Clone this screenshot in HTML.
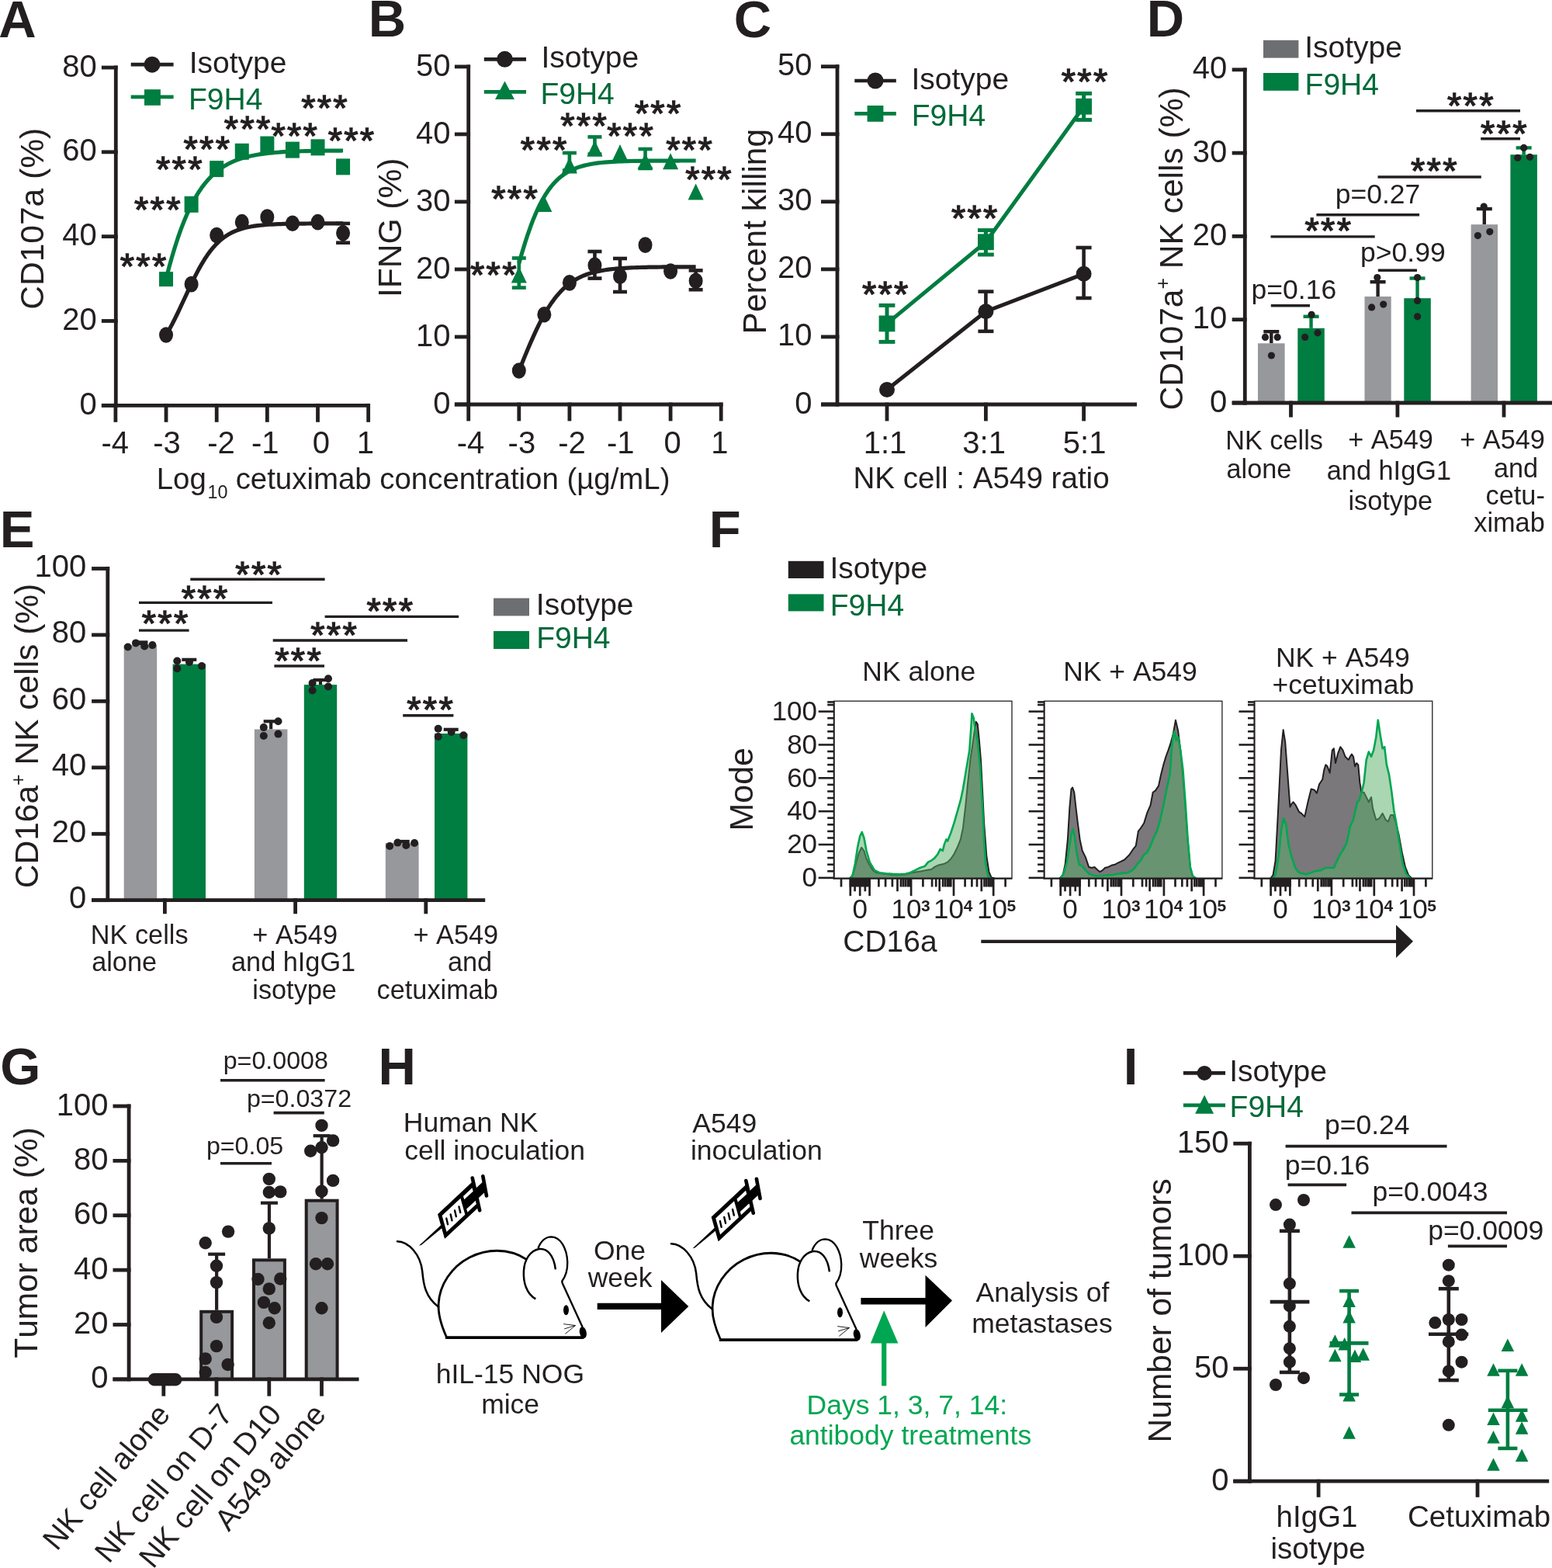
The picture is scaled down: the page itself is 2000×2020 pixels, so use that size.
<!DOCTYPE html>
<html><head><meta charset="utf-8"><title>Figure</title>
<style>
html,body{margin:0;padding:0;background:#fff;overflow:hidden;}
svg{display:block;}
text{font-family:'Liberation Sans', Arial, Helvetica, sans-serif;font-kerning:none;white-space:pre;}
</style></head><body>
<svg width="2000" height="2020" viewBox="0 0 2000 2020">
<rect x="0" y="0" width="2000" height="2020" fill="#fff"/>
<text x="-1.67" y="47.7" fill="#231F20" style="font-size:67px;font-weight:bold">A</text>
<line x1="149.3" y1="84.62" x2="149.3" y2="524.7" stroke="#231F20" stroke-width="4.8" stroke-linecap="butt"/>
<line x1="130.9" y1="522.3" x2="151.7" y2="522.3" stroke="#231F20" stroke-width="4.8" stroke-linecap="butt"/>
<line x1="130.9" y1="413.48" x2="151.7" y2="413.48" stroke="#231F20" stroke-width="4.8" stroke-linecap="butt"/>
<line x1="130.9" y1="304.66" x2="151.7" y2="304.66" stroke="#231F20" stroke-width="4.8" stroke-linecap="butt"/>
<line x1="130.9" y1="195.84" x2="151.7" y2="195.84" stroke="#231F20" stroke-width="4.8" stroke-linecap="butt"/>
<line x1="130.9" y1="87.02" x2="151.7" y2="87.02" stroke="#231F20" stroke-width="4.8" stroke-linecap="butt"/>
<line x1="130.9" y1="522.3" x2="477.05" y2="522.3" stroke="#231F20" stroke-width="4.8" stroke-linecap="butt"/>
<line x1="148.9" y1="519.9" x2="148.9" y2="543.8" stroke="#231F20" stroke-width="4.8" stroke-linecap="butt"/>
<line x1="214.05" y1="519.9" x2="214.05" y2="543.8" stroke="#231F20" stroke-width="4.8" stroke-linecap="butt"/>
<line x1="279.2" y1="519.9" x2="279.2" y2="543.8" stroke="#231F20" stroke-width="4.8" stroke-linecap="butt"/>
<line x1="344.35" y1="519.9" x2="344.35" y2="543.8" stroke="#231F20" stroke-width="4.8" stroke-linecap="butt"/>
<line x1="409.5" y1="519.9" x2="409.5" y2="543.8" stroke="#231F20" stroke-width="4.8" stroke-linecap="butt"/>
<line x1="474.65" y1="519.9" x2="474.65" y2="543.8" stroke="#231F20" stroke-width="4.8" stroke-linecap="butt"/>
<text x="102.62" y="533.8" fill="#231F20" style="font-size:40px">0</text>
<text x="80.37" y="424.98" fill="#231F20" style="font-size:40px">20</text>
<text x="80.37" y="316.16" fill="#231F20" style="font-size:40px">40</text>
<text x="80.37" y="207.34" fill="#231F20" style="font-size:40px">60</text>
<text x="80.37" y="98.52" fill="#231F20" style="font-size:40px">80</text>
<text x="130.51" y="584" fill="#231F20" style="font-size:40px">-4</text>
<text x="197.31" y="584" fill="#231F20" style="font-size:40px">-3</text>
<text x="267.23" y="584" fill="#231F20" style="font-size:40px">-2</text>
<text x="324" y="584" fill="#231F20" style="font-size:40px">-1</text>
<text x="402.68" y="584" fill="#231F20" style="font-size:40px">0</text>
<text x="459.83" y="584" fill="#231F20" style="font-size:40px">1</text>
<text x="201.75" y="630.2" fill="#231F20" style="font-size:38.4px">Log</text>
<text x="267.42" y="642.2" fill="#231F20" style="font-size:23.4px">10</text>
<text x="303.67" y="630.2" fill="#231F20" style="font-size:38.4px">cetuximab concentration (µg/mL)</text>
<text x="55.8" y="398.68" fill="#231F20" style="font-size:42.5px" transform="rotate(-90 55.8 398.68)">CD107a (%)</text>
<polyline points="214.05,431.55 217.85,425.02 221.65,418 225.45,410.55 229.25,402.76 233.05,394.71 236.85,386.52 240.65,378.3 244.45,370.16 248.25,362.23 252.05,354.6 255.85,347.37 259.66,340.59 263.46,334.31 267.26,328.57 271.06,323.36 274.86,318.69 278.66,314.52 282.46,310.84 286.26,307.61 290.06,304.78 293.86,302.33 297.66,300.2 301.46,298.37 305.26,296.8 309.06,295.45 312.86,294.3 316.66,293.32 320.46,292.48 324.26,291.77 328.06,291.16 331.86,290.65 335.66,290.21 339.46,289.85 343.26,289.53 347.06,289.27 350.87,289.05 354.67,288.86 358.47,288.7 362.27,288.57 366.07,288.45 369.87,288.36 373.67,288.28 377.47,288.21 381.27,288.15 385.07,288.1 388.87,288.06 392.67,288.03 396.47,288 400.27,287.97 404.07,287.95 407.87,287.93 411.67,287.92 415.47,287.91 419.27,287.9 423.07,287.89 426.87,287.88 430.67,287.87 434.47,287.87 438.27,287.86 442.08,287.86" fill="none" stroke="#231F20" stroke-width="5.2" stroke-linejoin="round" stroke-linecap="butt"/>
<polyline points="214.05,359.07 217.85,344.47 221.65,330.85 225.45,318.19 229.25,306.48 233.05,295.68 236.85,285.76 240.65,276.68 244.45,268.4 248.25,260.85 252.05,254 255.85,247.79 259.66,242.18 263.46,237.11 267.26,232.54 271.06,228.43 274.86,224.74 278.66,221.42 282.46,218.45 286.26,215.79 290.06,213.41 293.86,211.28 297.66,209.38 301.46,207.68 305.26,206.16 309.06,204.8 312.86,203.6 316.66,202.52 320.46,201.56 324.26,200.71 328.06,199.95 331.86,199.27 335.66,198.67 339.46,198.13 343.26,197.65 347.06,197.23 350.87,196.85 354.67,196.52 358.47,196.22 362.27,195.95 366.07,195.72 369.87,195.51 373.67,195.32 377.47,195.15 381.27,195.01 385.07,194.87 388.87,194.76 392.67,194.65 396.47,194.56 400.27,194.48 404.07,194.41 407.87,194.34 411.67,194.29 415.47,194.23 419.27,194.19 423.07,194.15 426.87,194.11 430.67,194.08 434.47,194.05 438.27,194.03 442.08,194.01" fill="none" stroke="#007D40" stroke-width="5.2" stroke-linejoin="round" stroke-linecap="butt"/>
<ellipse cx="214.05" cy="431.44" rx="9" ry="10.3" fill="#231F20"/>
<ellipse cx="246.62" cy="366.14" rx="9" ry="10.3" fill="#231F20"/>
<ellipse cx="279.2" cy="303.03" rx="9" ry="10.3" fill="#231F20"/>
<ellipse cx="311.77" cy="286.16" rx="9" ry="10.3" fill="#231F20"/>
<ellipse cx="344.35" cy="279.63" rx="9" ry="10.3" fill="#231F20"/>
<ellipse cx="376.93" cy="287.79" rx="9" ry="10.3" fill="#231F20"/>
<ellipse cx="409.5" cy="286.16" rx="9" ry="10.3" fill="#231F20"/>
<ellipse cx="442.08" cy="300.31" rx="9" ry="10.3" fill="#231F20"/>
<line x1="442.08" y1="287.91" x2="442.08" y2="312.71" stroke="#231F20" stroke-width="4.6" stroke-linecap="butt"/>
<line x1="433.08" y1="287.91" x2="451.08" y2="287.91" stroke="#231F20" stroke-width="4.6" stroke-linecap="butt"/>
<line x1="433.08" y1="312.71" x2="451.08" y2="312.71" stroke="#231F20" stroke-width="4.6" stroke-linecap="butt"/>
<rect x="205.05" y="350.11" width="18" height="19" fill="#007D40"/>
<rect x="237.62" y="252.81" width="18" height="21" fill="#007D40"/>
<rect x="270.2" y="207.1" width="18" height="21" fill="#007D40"/>
<rect x="302.77" y="184.8" width="18" height="21" fill="#007D40"/>
<rect x="335.35" y="175.55" width="18" height="21" fill="#007D40"/>
<rect x="367.93" y="182.62" width="18" height="21" fill="#007D40"/>
<rect x="400.5" y="179.35" width="18" height="21" fill="#007D40"/>
<rect x="433.08" y="204.38" width="18" height="21" fill="#007D40"/>
<line x1="168.7" y1="83.2" x2="223.6" y2="83.2" stroke="#231F20" stroke-width="4.7" stroke-linecap="butt"/>
<circle cx="196" cy="83.2" r="10.5" fill="#231F20"/>
<text x="243.7" y="93.9" fill="#231F20" style="font-size:39px">Isotype</text>
<line x1="168.7" y1="124.8" x2="223.6" y2="124.8" stroke="#007D40" stroke-width="4.7" stroke-linecap="butt"/>
<rect x="186" y="115.2" width="20.9" height="20.6" fill="#007D40"/>
<text x="243" y="141" fill="#006A38" style="font-size:39px">F9H4</text>
<text x="154.74" y="359.34" fill="#231F20" style="font-size:47px;letter-spacing:2.3px;stroke:#231F20;stroke-width:1.3px">***</text>
<text x="173.04" y="286.34" fill="#231F20" style="font-size:47px;letter-spacing:2.3px;stroke:#231F20;stroke-width:1.3px">***</text>
<text x="201.04" y="234.44" fill="#231F20" style="font-size:47px;letter-spacing:2.3px;stroke:#231F20;stroke-width:1.3px">***</text>
<text x="236.54" y="207.84" fill="#231F20" style="font-size:47px;letter-spacing:2.3px;stroke:#231F20;stroke-width:1.3px">***</text>
<text x="288.84" y="181.64" fill="#231F20" style="font-size:47px;letter-spacing:2.3px;stroke:#231F20;stroke-width:1.3px">***</text>
<text x="349.44" y="191.04" fill="#231F20" style="font-size:47px;letter-spacing:2.3px;stroke:#231F20;stroke-width:1.3px">***</text>
<text x="388.14" y="154.84" fill="#231F20" style="font-size:47px;letter-spacing:2.3px;stroke:#231F20;stroke-width:1.3px">***</text>
<text x="422.64" y="197.34" fill="#231F20" style="font-size:47px;letter-spacing:2.3px;stroke:#231F20;stroke-width:1.3px">***</text>
<text x="474.82" y="47" fill="#231F20" style="font-size:67px;font-weight:bold">B</text>
<line x1="603.7" y1="83.5" x2="603.7" y2="523.4" stroke="#231F20" stroke-width="4.8" stroke-linecap="butt"/>
<line x1="585.9" y1="521" x2="606.1" y2="521" stroke="#231F20" stroke-width="4.8" stroke-linecap="butt"/>
<line x1="585.9" y1="433.98" x2="606.1" y2="433.98" stroke="#231F20" stroke-width="4.8" stroke-linecap="butt"/>
<line x1="585.9" y1="346.96" x2="606.1" y2="346.96" stroke="#231F20" stroke-width="4.8" stroke-linecap="butt"/>
<line x1="585.9" y1="259.94" x2="606.1" y2="259.94" stroke="#231F20" stroke-width="4.8" stroke-linecap="butt"/>
<line x1="585.9" y1="172.92" x2="606.1" y2="172.92" stroke="#231F20" stroke-width="4.8" stroke-linecap="butt"/>
<line x1="585.9" y1="85.9" x2="606.1" y2="85.9" stroke="#231F20" stroke-width="4.8" stroke-linecap="butt"/>
<line x1="585.9" y1="521" x2="931.6" y2="521" stroke="#231F20" stroke-width="4.8" stroke-linecap="butt"/>
<line x1="603.7" y1="518.6" x2="603.7" y2="542.4" stroke="#231F20" stroke-width="4.8" stroke-linecap="butt"/>
<line x1="668.8" y1="518.6" x2="668.8" y2="542.4" stroke="#231F20" stroke-width="4.8" stroke-linecap="butt"/>
<line x1="733.9" y1="518.6" x2="733.9" y2="542.4" stroke="#231F20" stroke-width="4.8" stroke-linecap="butt"/>
<line x1="799" y1="518.6" x2="799" y2="542.4" stroke="#231F20" stroke-width="4.8" stroke-linecap="butt"/>
<line x1="864.1" y1="518.6" x2="864.1" y2="542.4" stroke="#231F20" stroke-width="4.8" stroke-linecap="butt"/>
<line x1="929.2" y1="518.6" x2="929.2" y2="542.4" stroke="#231F20" stroke-width="4.8" stroke-linecap="butt"/>
<text x="558.32" y="533.4" fill="#231F20" style="font-size:40px">0</text>
<text x="536.07" y="446.38" fill="#231F20" style="font-size:40px">10</text>
<text x="536.07" y="359.36" fill="#231F20" style="font-size:40px">20</text>
<text x="536.07" y="272.34" fill="#231F20" style="font-size:40px">30</text>
<text x="536.07" y="185.32" fill="#231F20" style="font-size:40px">40</text>
<text x="536.07" y="98.3" fill="#231F20" style="font-size:40px">50</text>
<text x="588.71" y="584" fill="#231F20" style="font-size:40px">-4</text>
<text x="654.61" y="584" fill="#231F20" style="font-size:40px">-3</text>
<text x="719.23" y="584" fill="#231F20" style="font-size:40px">-2</text>
<text x="781.9" y="584" fill="#231F20" style="font-size:40px">-1</text>
<text x="855.48" y="584" fill="#231F20" style="font-size:40px">0</text>
<text x="916.33" y="584" fill="#231F20" style="font-size:40px">1</text>
<text x="517.4" y="383.05" fill="#231F20" style="font-size:42.5px" transform="rotate(-90 517.4 383.05)">IFNG (%)</text>
<polyline points="668.8,477.5 672.6,468.16 676.39,458.89 680.19,449.77 683.99,440.89 687.79,432.33 691.59,424.15 695.38,416.41 699.18,409.15 702.98,402.38 706.78,396.13 710.57,390.39 714.37,385.16 718.17,380.41 721.97,376.12 725.76,372.27 729.56,368.83 733.36,365.77 737.15,363.04 740.95,360.63 744.75,358.5 748.55,356.63 752.35,354.98 756.14,353.53 759.94,352.27 763.74,351.16 767.54,350.19 771.33,349.34 775.13,348.61 778.93,347.96 782.73,347.4 786.52,346.92 790.32,346.49 794.12,346.12 797.91,345.8 801.71,345.53 805.51,345.29 809.31,345.08 813.11,344.89 816.9,344.74 820.7,344.6 824.5,344.48 828.3,344.38 832.09,344.29 835.89,344.21 839.69,344.14 843.49,344.08 847.28,344.03 851.08,343.99 854.88,343.95 858.67,343.92 862.47,343.89 866.27,343.86 870.07,343.84 873.87,343.82 877.66,343.81 881.46,343.79 885.26,343.78 889.06,343.77 892.85,343.76 896.65,343.76" fill="none" stroke="#231F20" stroke-width="5.2" stroke-linejoin="round" stroke-linecap="butt"/>
<polyline points="668.8,339.23 672.6,325.92 676.39,313.41 680.19,301.76 683.99,291.01 687.79,281.18 691.59,272.26 695.38,264.22 699.18,257.02 702.98,250.61 706.78,244.93 710.57,239.92 714.37,235.51 718.17,231.66 721.97,228.3 725.76,225.37 729.56,222.83 733.36,220.62 737.15,218.72 740.95,217.07 744.75,215.65 748.55,214.42 752.35,213.37 756.14,212.46 759.94,211.68 763.74,211.01 767.54,210.44 771.33,209.94 775.13,209.52 778.93,209.15 782.73,208.84 786.52,208.58 790.32,208.35 794.12,208.15 797.91,207.98 801.71,207.84 805.51,207.72 809.31,207.61 813.11,207.52 816.9,207.44 820.7,207.38 824.5,207.32 828.3,207.27 832.09,207.23 835.89,207.19 839.69,207.16 843.49,207.14 847.28,207.11 851.08,207.1 854.88,207.08 858.67,207.07 862.47,207.05 866.27,207.04 870.07,207.03 873.87,207.03 877.66,207.02 881.46,207.01 885.26,207.01 889.06,207.01 892.85,207 896.65,207" fill="none" stroke="#007D40" stroke-width="5.2" stroke-linejoin="round" stroke-linecap="butt"/>
<line x1="766.45" y1="324" x2="766.45" y2="358.6" stroke="#231F20" stroke-width="4.6" stroke-linecap="butt"/>
<line x1="757.45" y1="324" x2="775.45" y2="324" stroke="#231F20" stroke-width="4.6" stroke-linecap="butt"/>
<line x1="757.45" y1="358.6" x2="775.45" y2="358.6" stroke="#231F20" stroke-width="4.6" stroke-linecap="butt"/>
<line x1="799" y1="333" x2="799" y2="376" stroke="#231F20" stroke-width="4.6" stroke-linecap="butt"/>
<line x1="790" y1="333" x2="808" y2="333" stroke="#231F20" stroke-width="4.6" stroke-linecap="butt"/>
<line x1="790" y1="376" x2="808" y2="376" stroke="#231F20" stroke-width="4.6" stroke-linecap="butt"/>
<line x1="896.65" y1="348.4" x2="896.65" y2="373.2" stroke="#231F20" stroke-width="4.6" stroke-linecap="butt"/>
<line x1="887.65" y1="348.4" x2="905.65" y2="348.4" stroke="#231F20" stroke-width="4.6" stroke-linecap="butt"/>
<line x1="887.65" y1="373.2" x2="905.65" y2="373.2" stroke="#231F20" stroke-width="4.6" stroke-linecap="butt"/>
<ellipse cx="668.8" cy="477.49" rx="9" ry="10.3" fill="#231F20"/>
<ellipse cx="701.35" cy="405.26" rx="9" ry="10.3" fill="#231F20"/>
<ellipse cx="733.9" cy="364.36" rx="9" ry="10.3" fill="#231F20"/>
<ellipse cx="766.45" cy="341.74" rx="9" ry="10.3" fill="#231F20"/>
<ellipse cx="799" cy="355.66" rx="9" ry="10.3" fill="#231F20"/>
<ellipse cx="831.55" cy="315.63" rx="9" ry="10.3" fill="#231F20"/>
<ellipse cx="864.1" cy="349.57" rx="9" ry="10.3" fill="#231F20"/>
<ellipse cx="896.65" cy="361.75" rx="9" ry="10.3" fill="#231F20"/>
<line x1="668.8" y1="332.5" x2="668.8" y2="370.6" stroke="#007D40" stroke-width="4.6" stroke-linecap="butt"/>
<line x1="659.8" y1="332.5" x2="677.8" y2="332.5" stroke="#007D40" stroke-width="4.6" stroke-linecap="butt"/>
<line x1="659.8" y1="370.6" x2="677.8" y2="370.6" stroke="#007D40" stroke-width="4.6" stroke-linecap="butt"/>
<line x1="733.9" y1="197" x2="733.9" y2="219.5" stroke="#007D40" stroke-width="4.6" stroke-linecap="butt"/>
<line x1="724.9" y1="197" x2="742.9" y2="197" stroke="#007D40" stroke-width="4.6" stroke-linecap="butt"/>
<line x1="724.9" y1="219.5" x2="742.9" y2="219.5" stroke="#007D40" stroke-width="4.6" stroke-linecap="butt"/>
<line x1="766.45" y1="176.4" x2="766.45" y2="198.6" stroke="#007D40" stroke-width="4.6" stroke-linecap="butt"/>
<line x1="757.45" y1="176.4" x2="775.45" y2="176.4" stroke="#007D40" stroke-width="4.6" stroke-linecap="butt"/>
<line x1="757.45" y1="198.6" x2="775.45" y2="198.6" stroke="#007D40" stroke-width="4.6" stroke-linecap="butt"/>
<line x1="831.55" y1="192" x2="831.55" y2="217" stroke="#007D40" stroke-width="4.6" stroke-linecap="butt"/>
<line x1="822.55" y1="192" x2="840.55" y2="192" stroke="#007D40" stroke-width="4.6" stroke-linecap="butt"/>
<line x1="822.55" y1="217" x2="840.55" y2="217" stroke="#007D40" stroke-width="4.6" stroke-linecap="butt"/>
<polygon points="658.8,364.42 678.8,364.42 668.8,343.42" fill="#007D40"/>
<polygon points="691.35,273.05 711.35,273.05 701.35,252.05" fill="#007D40"/>
<polygon points="723.9,223.45 743.9,223.45 733.9,202.45" fill="#007D40"/>
<polygon points="756.45,201.69 776.45,201.69 766.45,180.69" fill="#007D40"/>
<polygon points="789,206.92 809,206.92 799,185.92" fill="#007D40"/>
<polygon points="821.55,218.23 841.55,218.23 831.55,197.23" fill="#007D40"/>
<polygon points="854.1,218.23 874.1,218.23 864.1,197.23" fill="#007D40"/>
<polygon points="886.65,257.39 906.65,257.39 896.65,236.39" fill="#007D40"/>
<line x1="623.8" y1="76.3" x2="678" y2="76.3" stroke="#231F20" stroke-width="4.7" stroke-linecap="butt"/>
<circle cx="650.5" cy="76.3" r="10.5" fill="#231F20"/>
<text x="697.4" y="87" fill="#231F20" style="font-size:39px">Isotype</text>
<line x1="623.8" y1="118.4" x2="678" y2="118.4" stroke="#007D40" stroke-width="4.7" stroke-linecap="butt"/>
<polygon points="638,128.05 663,128.05 650.5,104.55" fill="#007D40"/>
<text x="696.4" y="133.8" fill="#006A38" style="font-size:39px">F9H4</text>
<text x="606.04" y="370.34" fill="#231F20" style="font-size:47px;letter-spacing:2.3px;stroke:#231F20;stroke-width:1.3px">***</text>
<text x="633.24" y="272.34" fill="#231F20" style="font-size:47px;letter-spacing:2.3px;stroke:#231F20;stroke-width:1.3px">***</text>
<text x="670.84" y="209.34" fill="#231F20" style="font-size:47px;letter-spacing:2.3px;stroke:#231F20;stroke-width:1.3px">***</text>
<text x="722.24" y="178.34" fill="#231F20" style="font-size:47px;letter-spacing:2.3px;stroke:#231F20;stroke-width:1.3px">***</text>
<text x="782.24" y="191.34" fill="#231F20" style="font-size:47px;letter-spacing:2.3px;stroke:#231F20;stroke-width:1.3px">***</text>
<text x="817.74" y="162.34" fill="#231F20" style="font-size:47px;letter-spacing:2.3px;stroke:#231F20;stroke-width:1.3px">***</text>
<text x="858.24" y="209.34" fill="#231F20" style="font-size:47px;letter-spacing:2.3px;stroke:#231F20;stroke-width:1.3px">***</text>
<text x="883.14" y="247.34" fill="#231F20" style="font-size:47px;letter-spacing:2.3px;stroke:#231F20;stroke-width:1.3px">***</text>
<text x="945.65" y="48.4" fill="#231F20" style="font-size:67px;font-weight:bold">C</text>
<line x1="1079" y1="83.3" x2="1079" y2="523.4" stroke="#231F20" stroke-width="4.8" stroke-linecap="butt"/>
<line x1="1058" y1="521" x2="1081.4" y2="521" stroke="#231F20" stroke-width="4.8" stroke-linecap="butt"/>
<line x1="1058" y1="433.94" x2="1081.4" y2="433.94" stroke="#231F20" stroke-width="4.8" stroke-linecap="butt"/>
<line x1="1058" y1="346.88" x2="1081.4" y2="346.88" stroke="#231F20" stroke-width="4.8" stroke-linecap="butt"/>
<line x1="1058" y1="259.82" x2="1081.4" y2="259.82" stroke="#231F20" stroke-width="4.8" stroke-linecap="butt"/>
<line x1="1058" y1="172.76" x2="1081.4" y2="172.76" stroke="#231F20" stroke-width="4.8" stroke-linecap="butt"/>
<line x1="1058" y1="85.7" x2="1081.4" y2="85.7" stroke="#231F20" stroke-width="4.8" stroke-linecap="butt"/>
<line x1="1058" y1="521" x2="1465" y2="521" stroke="#231F20" stroke-width="4.8" stroke-linecap="butt"/>
<line x1="1143" y1="518.6" x2="1143" y2="542.4" stroke="#231F20" stroke-width="4.8" stroke-linecap="butt"/>
<line x1="1270.4" y1="518.6" x2="1270.4" y2="542.4" stroke="#231F20" stroke-width="4.8" stroke-linecap="butt"/>
<line x1="1396.6" y1="518.6" x2="1396.6" y2="542.4" stroke="#231F20" stroke-width="4.8" stroke-linecap="butt"/>
<text x="1024.32" y="532.5" fill="#231F20" style="font-size:40px">0</text>
<text x="1002.07" y="445.44" fill="#231F20" style="font-size:40px">10</text>
<text x="1002.07" y="358.38" fill="#231F20" style="font-size:40px">20</text>
<text x="1002.07" y="271.32" fill="#231F20" style="font-size:40px">30</text>
<text x="1002.07" y="184.26" fill="#231F20" style="font-size:40px">40</text>
<text x="1002.07" y="97.2" fill="#231F20" style="font-size:40px">50</text>
<text x="1112.65" y="584" fill="#231F20" style="font-size:40px">1:1</text>
<text x="1240.31" y="584" fill="#231F20" style="font-size:40px">3:1</text>
<text x="1369.77" y="584" fill="#231F20" style="font-size:40px">5:1</text>
<text x="1099.43" y="628.7" fill="#231F20" style="font-size:38.6px">NK cell : A549 ratio</text>
<text x="986.8" y="430.46" fill="#231F20" style="font-size:42.5px" transform="rotate(-90 986.8 430.46)">Percent killing</text>
<polyline points="1143,502 1270.4,401.2 1396.6,352.8" fill="none" stroke="#231F20" stroke-width="5" stroke-linejoin="round" stroke-linecap="butt"/>
<polyline points="1143,416.9 1270.4,311.8 1396.6,137.2" fill="none" stroke="#007D40" stroke-width="5" stroke-linejoin="round" stroke-linecap="butt"/>
<line x1="1270.4" y1="375.6" x2="1270.4" y2="426.8" stroke="#231F20" stroke-width="4.6" stroke-linecap="butt"/>
<line x1="1260.4" y1="375.6" x2="1280.4" y2="375.6" stroke="#231F20" stroke-width="4.6" stroke-linecap="butt"/>
<line x1="1260.4" y1="426.8" x2="1280.4" y2="426.8" stroke="#231F20" stroke-width="4.6" stroke-linecap="butt"/>
<line x1="1396.6" y1="319" x2="1396.6" y2="384" stroke="#231F20" stroke-width="4.6" stroke-linecap="butt"/>
<line x1="1386.6" y1="319" x2="1406.6" y2="319" stroke="#231F20" stroke-width="4.6" stroke-linecap="butt"/>
<line x1="1386.6" y1="384" x2="1406.6" y2="384" stroke="#231F20" stroke-width="4.6" stroke-linecap="butt"/>
<circle cx="1143" cy="502" r="10" fill="#231F20"/>
<circle cx="1270.4" cy="401.2" r="10" fill="#231F20"/>
<circle cx="1396.6" cy="352.8" r="10" fill="#231F20"/>
<line x1="1143" y1="393.4" x2="1143" y2="440.4" stroke="#007D40" stroke-width="5" stroke-linecap="butt"/>
<line x1="1132.6" y1="393.4" x2="1153.4" y2="393.4" stroke="#007D40" stroke-width="5" stroke-linecap="butt"/>
<line x1="1132.6" y1="440.4" x2="1153.4" y2="440.4" stroke="#007D40" stroke-width="5" stroke-linecap="butt"/>
<line x1="1270.4" y1="296.6" x2="1270.4" y2="328" stroke="#007D40" stroke-width="5" stroke-linecap="butt"/>
<line x1="1260" y1="296.6" x2="1280.8" y2="296.6" stroke="#007D40" stroke-width="5" stroke-linecap="butt"/>
<line x1="1260" y1="328" x2="1280.8" y2="328" stroke="#007D40" stroke-width="5" stroke-linecap="butt"/>
<line x1="1396.6" y1="120.4" x2="1396.6" y2="154.4" stroke="#007D40" stroke-width="5" stroke-linecap="butt"/>
<line x1="1386.2" y1="120.4" x2="1407" y2="120.4" stroke="#007D40" stroke-width="5" stroke-linecap="butt"/>
<line x1="1386.2" y1="154.4" x2="1407" y2="154.4" stroke="#007D40" stroke-width="5" stroke-linecap="butt"/>
<rect x="1132.6" y="406.5" width="20.8" height="20.8" fill="#007D40"/>
<rect x="1260" y="301.4" width="20.8" height="20.8" fill="#007D40"/>
<rect x="1386.2" y="126.8" width="20.8" height="20.8" fill="#007D40"/>
<line x1="1101.3" y1="104" x2="1154.8" y2="104" stroke="#231F20" stroke-width="4.7" stroke-linecap="butt"/>
<circle cx="1128" cy="104" r="10.5" fill="#231F20"/>
<text x="1174.4" y="115" fill="#231F20" style="font-size:39px">Isotype</text>
<line x1="1101.3" y1="146.4" x2="1154.8" y2="146.4" stroke="#007D40" stroke-width="4.7" stroke-linecap="butt"/>
<rect x="1117.6" y="136" width="20.8" height="20.8" fill="#007D40"/>
<text x="1174.8" y="162" fill="#006A38" style="font-size:39px">F9H4</text>
<text x="1110.94" y="395.34" fill="#231F20" style="font-size:47px;letter-spacing:2.3px;stroke:#231F20;stroke-width:1.3px">***</text>
<text x="1225.94" y="297.34" fill="#231F20" style="font-size:47px;letter-spacing:2.3px;stroke:#231F20;stroke-width:1.3px">***</text>
<text x="1367.74" y="120.54" fill="#231F20" style="font-size:47px;letter-spacing:2.3px;stroke:#231F20;stroke-width:1.3px">***</text>
<text x="1477.72" y="47" fill="#231F20" style="font-size:67px;font-weight:bold">D</text>
<line x1="1604.3" y1="87.4" x2="1604.3" y2="521.4" stroke="#231F20" stroke-width="4.8" stroke-linecap="butt"/>
<line x1="1587.7" y1="519" x2="1606.7" y2="519" stroke="#231F20" stroke-width="4.8" stroke-linecap="butt"/>
<line x1="1587.7" y1="411.7" x2="1606.7" y2="411.7" stroke="#231F20" stroke-width="4.8" stroke-linecap="butt"/>
<line x1="1587.7" y1="304.4" x2="1606.7" y2="304.4" stroke="#231F20" stroke-width="4.8" stroke-linecap="butt"/>
<line x1="1587.7" y1="197.1" x2="1606.7" y2="197.1" stroke="#231F20" stroke-width="4.8" stroke-linecap="butt"/>
<line x1="1587.7" y1="89.8" x2="1606.7" y2="89.8" stroke="#231F20" stroke-width="4.8" stroke-linecap="butt"/>
<text x="1559.12" y="530.5" fill="#231F20" style="font-size:40px">0</text>
<text x="1536.87" y="423.2" fill="#231F20" style="font-size:40px">10</text>
<text x="1536.87" y="315.9" fill="#231F20" style="font-size:40px">20</text>
<text x="1536.87" y="208.6" fill="#231F20" style="font-size:40px">30</text>
<text x="1536.87" y="101.3" fill="#231F20" style="font-size:40px">40</text>
<line x1="1638.3" y1="442.3" x2="1638.3" y2="427.2" stroke="#231F20" stroke-width="4.4" stroke-linecap="butt"/>
<line x1="1628.3" y1="427.2" x2="1648.3" y2="427.2" stroke="#231F20" stroke-width="4.4" stroke-linecap="butt"/>
<rect x="1621" y="442.3" width="34.6" height="76.7" fill="#97989C"/>
<line x1="1689.55" y1="422.8" x2="1689.55" y2="407.8" stroke="#007D40" stroke-width="4.4" stroke-linecap="butt"/>
<line x1="1679.55" y1="407.8" x2="1699.55" y2="407.8" stroke="#007D40" stroke-width="4.4" stroke-linecap="butt"/>
<rect x="1672.3" y="422.8" width="34.5" height="96.2" fill="#007D40"/>
<line x1="1775.6" y1="382" x2="1775.6" y2="363.2" stroke="#231F20" stroke-width="4.4" stroke-linecap="butt"/>
<line x1="1765.6" y1="363.2" x2="1785.6" y2="363.2" stroke="#231F20" stroke-width="4.4" stroke-linecap="butt"/>
<rect x="1758.5" y="382" width="34.2" height="137" fill="#97989C"/>
<line x1="1826.55" y1="384.2" x2="1826.55" y2="358.5" stroke="#007D40" stroke-width="4.4" stroke-linecap="butt"/>
<line x1="1816.55" y1="358.5" x2="1836.55" y2="358.5" stroke="#007D40" stroke-width="4.4" stroke-linecap="butt"/>
<rect x="1809.3" y="384.2" width="34.5" height="134.8" fill="#007D40"/>
<line x1="1912.8" y1="289.2" x2="1912.8" y2="269.1" stroke="#231F20" stroke-width="4.4" stroke-linecap="butt"/>
<line x1="1902.8" y1="269.1" x2="1922.8" y2="269.1" stroke="#231F20" stroke-width="4.4" stroke-linecap="butt"/>
<rect x="1895.6" y="289.2" width="34.4" height="229.8" fill="#97989C"/>
<line x1="1963.65" y1="199.2" x2="1963.65" y2="190.4" stroke="#007D40" stroke-width="4.4" stroke-linecap="butt"/>
<line x1="1953.65" y1="190.4" x2="1973.65" y2="190.4" stroke="#007D40" stroke-width="4.4" stroke-linecap="butt"/>
<rect x="1946.4" y="199.2" width="34.5" height="319.8" fill="#007D40"/>
<line x1="1587.7" y1="519" x2="2000" y2="519" stroke="#231F20" stroke-width="4.8" stroke-linecap="butt"/>
<line x1="1663.5" y1="516.6" x2="1663.5" y2="537.5" stroke="#231F20" stroke-width="4.8" stroke-linecap="butt"/>
<line x1="1800.9" y1="516.6" x2="1800.9" y2="537.5" stroke="#231F20" stroke-width="4.8" stroke-linecap="butt"/>
<line x1="1938" y1="516.6" x2="1938" y2="537.5" stroke="#231F20" stroke-width="4.8" stroke-linecap="butt"/>
<circle cx="1630.5" cy="434.4" r="4.6" fill="#231F20"/>
<circle cx="1646.2" cy="434.4" r="4.6" fill="#231F20"/>
<circle cx="1638.4" cy="458" r="4.6" fill="#231F20"/>
<circle cx="1690.1" cy="405.3" r="4.6" fill="#231F20"/>
<circle cx="1681.7" cy="434.4" r="4.6" fill="#231F20"/>
<circle cx="1698" cy="428.8" r="4.6" fill="#231F20"/>
<circle cx="1774.8" cy="357.6" r="4.6" fill="#231F20"/>
<circle cx="1767.6" cy="395.9" r="4.6" fill="#231F20"/>
<circle cx="1782.7" cy="392.1" r="4.6" fill="#231F20"/>
<circle cx="1826.6" cy="357.6" r="4.6" fill="#231F20"/>
<circle cx="1826.6" cy="387.4" r="4.6" fill="#231F20"/>
<circle cx="1826.6" cy="407.8" r="4.6" fill="#231F20"/>
<circle cx="1912.2" cy="266" r="4.6" fill="#231F20"/>
<circle cx="1904.4" cy="303.6" r="4.6" fill="#231F20"/>
<circle cx="1919.8" cy="298.6" r="4.6" fill="#231F20"/>
<circle cx="1963.7" cy="190.4" r="4.6" fill="#231F20"/>
<circle cx="1955.8" cy="203.3" r="4.6" fill="#231F20"/>
<circle cx="1971.5" cy="202.3" r="4.6" fill="#231F20"/>
<line x1="1637.8" y1="393.7" x2="1688" y2="393.7" stroke="#231F20" stroke-width="3.4" stroke-linecap="butt"/>
<text x="1612.61" y="384.5" fill="#231F20" style="font-size:35.5px">p=0.16</text>
<line x1="1637.5" y1="304.9" x2="1771.7" y2="304.9" stroke="#231F20" stroke-width="3.4" stroke-linecap="butt"/>
<text x="1681.54" y="313.34" fill="#231F20" style="font-size:47px;letter-spacing:2.3px;stroke:#231F20;stroke-width:1.3px">***</text>
<line x1="1696.4" y1="276.7" x2="1829.1" y2="276.7" stroke="#231F20" stroke-width="3.4" stroke-linecap="butt"/>
<text x="1720.71" y="262" fill="#231F20" style="font-size:35.5px">p=0.27</text>
<line x1="1775.5" y1="228" x2="1908.8" y2="228" stroke="#231F20" stroke-width="3.4" stroke-linecap="butt"/>
<text x="1818.04" y="236.34" fill="#231F20" style="font-size:47px;letter-spacing:2.3px;stroke:#231F20;stroke-width:1.3px">***</text>
<line x1="1775.8" y1="348.2" x2="1826" y2="348.2" stroke="#231F20" stroke-width="3.4" stroke-linecap="butt"/>
<text x="1753.11" y="337.2" fill="#231F20" style="font-size:35.5px">p&gt;0.99</text>
<line x1="1825" y1="142.7" x2="1959" y2="142.7" stroke="#231F20" stroke-width="3.4" stroke-linecap="butt"/>
<text x="1865.04" y="151.64" fill="#231F20" style="font-size:47px;letter-spacing:2.3px;stroke:#231F20;stroke-width:1.3px">***</text>
<line x1="1908.2" y1="178.8" x2="1959" y2="178.8" stroke="#231F20" stroke-width="3.4" stroke-linecap="butt"/>
<text x="1908.04" y="187.74" fill="#231F20" style="font-size:47px;letter-spacing:2.3px;stroke:#231F20;stroke-width:1.3px">***</text>
<rect x="1628" y="51.8" width="45.4" height="22.8" fill="#6D6E71"/>
<rect x="1628" y="94" width="45.4" height="22.8" fill="#007D40"/>
<text x="1681.2" y="73.7" fill="#231F20" style="font-size:39px">Isotype</text>
<text x="1681.6" y="122.3" fill="#006A38" style="font-size:39px">F9H4</text>
<g transform="translate(1523.93 528.52) rotate(-90)">
<text x="0" y="0" fill="#231F20" style="font-size:42.5px">CD107a</text>
<text x="155.93" y="-17" fill="#231F20" style="font-size:25px">+</text>
<text x="170.53" y="0" fill="#231F20" style="font-size:42.5px"> NK cells (%)</text>
</g>
<text x="1579.19" y="578.6" fill="#231F20" style="font-size:34.3px">NK cells</text>
<text x="1580.54" y="616.2" fill="#231F20" style="font-size:34.3px">alone</text>
<text x="1737.24" y="578.4" fill="#231F20" style="font-size:34.3px">+ A549</text>
<text x="1709.81" y="617.6" fill="#231F20" style="font-size:34.3px">and hIgG1</text>
<text x="1737.48" y="656.8" fill="#231F20" style="font-size:34.3px">isotype</text>
<text x="1881.26" y="578.4" fill="#231F20" style="font-size:34.3px">+ A549</text>
<text x="1924.88" y="614.5" fill="#231F20" style="font-size:34.3px">and</text>
<text x="1914.57" y="649.8" fill="#231F20" style="font-size:34.3px">cetu-</text>
<text x="1899.25" y="685" fill="#231F20" style="font-size:34.3px">ximab</text>
<text x="-0.18" y="704.8" fill="#231F20" style="font-size:67px;font-weight:bold">E</text>
<line x1="138.8" y1="730.1" x2="138.8" y2="1162.1" stroke="#231F20" stroke-width="4.8" stroke-linecap="butt"/>
<line x1="118.1" y1="1159.7" x2="141.2" y2="1159.7" stroke="#231F20" stroke-width="4.8" stroke-linecap="butt"/>
<line x1="118.1" y1="1074.26" x2="141.2" y2="1074.26" stroke="#231F20" stroke-width="4.8" stroke-linecap="butt"/>
<line x1="118.1" y1="988.82" x2="141.2" y2="988.82" stroke="#231F20" stroke-width="4.8" stroke-linecap="butt"/>
<line x1="118.1" y1="903.38" x2="141.2" y2="903.38" stroke="#231F20" stroke-width="4.8" stroke-linecap="butt"/>
<line x1="118.1" y1="817.94" x2="141.2" y2="817.94" stroke="#231F20" stroke-width="4.8" stroke-linecap="butt"/>
<line x1="118.1" y1="732.5" x2="141.2" y2="732.5" stroke="#231F20" stroke-width="4.8" stroke-linecap="butt"/>
<text x="88.92" y="1170.2" fill="#231F20" style="font-size:40px">0</text>
<text x="66.67" y="1084.76" fill="#231F20" style="font-size:40px">20</text>
<text x="66.67" y="999.32" fill="#231F20" style="font-size:40px">40</text>
<text x="66.67" y="913.88" fill="#231F20" style="font-size:40px">60</text>
<text x="66.67" y="828.44" fill="#231F20" style="font-size:40px">80</text>
<text x="44.42" y="743" fill="#231F20" style="font-size:40px">100</text>
<line x1="180.95" y1="831.1" x2="180.95" y2="827.4" stroke="#231F20" stroke-width="4.2" stroke-linecap="butt"/>
<line x1="171.45" y1="827.4" x2="190.45" y2="827.4" stroke="#231F20" stroke-width="4.2" stroke-linecap="butt"/>
<rect x="159.7" y="831.1" width="42.5" height="328.6" fill="#97989C"/>
<line x1="243.8" y1="855.6" x2="243.8" y2="849.8" stroke="#231F20" stroke-width="4.2" stroke-linecap="butt"/>
<line x1="234.3" y1="849.8" x2="253.3" y2="849.8" stroke="#231F20" stroke-width="4.2" stroke-linecap="butt"/>
<rect x="222.6" y="855.6" width="42.4" height="304.1" fill="#007D40"/>
<line x1="349.15" y1="939.5" x2="349.15" y2="929.3" stroke="#231F20" stroke-width="4.2" stroke-linecap="butt"/>
<line x1="339.65" y1="929.3" x2="358.65" y2="929.3" stroke="#231F20" stroke-width="4.2" stroke-linecap="butt"/>
<rect x="327.9" y="939.5" width="42.5" height="220.2" fill="#97989C"/>
<line x1="413" y1="882.1" x2="413" y2="876" stroke="#231F20" stroke-width="4.2" stroke-linecap="butt"/>
<line x1="403.5" y1="876" x2="422.5" y2="876" stroke="#231F20" stroke-width="4.2" stroke-linecap="butt"/>
<rect x="391.8" y="882.1" width="42.4" height="277.6" fill="#007D40"/>
<line x1="518.2" y1="1086" x2="518.2" y2="1084" stroke="#231F20" stroke-width="4.2" stroke-linecap="butt"/>
<line x1="508.7" y1="1084" x2="527.7" y2="1084" stroke="#231F20" stroke-width="4.2" stroke-linecap="butt"/>
<rect x="496.8" y="1086" width="42.8" height="73.7" fill="#97989C"/>
<line x1="581.2" y1="945" x2="581.2" y2="939.8" stroke="#231F20" stroke-width="4.2" stroke-linecap="butt"/>
<line x1="571.7" y1="939.8" x2="590.7" y2="939.8" stroke="#231F20" stroke-width="4.2" stroke-linecap="butt"/>
<rect x="560" y="945" width="42.4" height="214.7" fill="#007D40"/>
<line x1="118.1" y1="1159.7" x2="625.2" y2="1159.7" stroke="#231F20" stroke-width="4.8" stroke-linecap="butt"/>
<line x1="212.4" y1="1157.3" x2="212.4" y2="1177.3" stroke="#231F20" stroke-width="4.8" stroke-linecap="butt"/>
<line x1="380.6" y1="1157.3" x2="380.6" y2="1177.3" stroke="#231F20" stroke-width="4.8" stroke-linecap="butt"/>
<line x1="548.8" y1="1157.3" x2="548.8" y2="1177.3" stroke="#231F20" stroke-width="4.8" stroke-linecap="butt"/>
<circle cx="164.8" cy="833.5" r="5" fill="#231F20"/>
<circle cx="175" cy="828.4" r="5" fill="#231F20"/>
<circle cx="186.2" cy="832.5" r="5" fill="#231F20"/>
<circle cx="196.4" cy="831.1" r="5" fill="#231F20"/>
<circle cx="228.3" cy="851.5" r="5" fill="#231F20"/>
<circle cx="228.3" cy="861.3" r="5" fill="#231F20"/>
<circle cx="244" cy="852.9" r="5" fill="#231F20"/>
<circle cx="260" cy="858" r="5" fill="#231F20"/>
<circle cx="339.8" cy="937.1" r="5" fill="#231F20"/>
<circle cx="339.8" cy="948" r="5" fill="#231F20"/>
<circle cx="358.5" cy="929.3" r="5" fill="#231F20"/>
<circle cx="358.5" cy="945.6" r="5" fill="#231F20"/>
<circle cx="402.6" cy="880" r="5" fill="#231F20"/>
<circle cx="402.6" cy="889.5" r="5" fill="#231F20"/>
<circle cx="423" cy="874.3" r="5" fill="#231F20"/>
<circle cx="423" cy="884.5" r="5" fill="#231F20"/>
<circle cx="502.2" cy="1090" r="5" fill="#231F20"/>
<circle cx="512.4" cy="1085.6" r="5" fill="#231F20"/>
<circle cx="523.3" cy="1089" r="5" fill="#231F20"/>
<circle cx="534.1" cy="1086" r="5" fill="#231F20"/>
<circle cx="564.7" cy="938.8" r="5" fill="#231F20"/>
<circle cx="564.7" cy="949" r="5" fill="#231F20"/>
<circle cx="581.7" cy="942.9" r="5" fill="#231F20"/>
<circle cx="597.3" cy="947.3" r="5" fill="#231F20"/>
<line x1="179" y1="812.1" x2="243.6" y2="812.1" stroke="#231F20" stroke-width="3.4" stroke-linecap="butt"/>
<text x="182.74" y="819.14" fill="#231F20" style="font-size:47px;letter-spacing:2.3px;stroke:#231F20;stroke-width:1.3px">***</text>
<line x1="179" y1="776.4" x2="351" y2="776.4" stroke="#231F20" stroke-width="3.4" stroke-linecap="butt"/>
<text x="233.74" y="786.84" fill="#231F20" style="font-size:47px;letter-spacing:2.3px;stroke:#231F20;stroke-width:1.3px">***</text>
<line x1="245.3" y1="746.2" x2="418.6" y2="746.2" stroke="#231F20" stroke-width="3.4" stroke-linecap="butt"/>
<text x="303.34" y="756.34" fill="#231F20" style="font-size:47px;letter-spacing:2.3px;stroke:#231F20;stroke-width:1.3px">***</text>
<line x1="418.6" y1="794.4" x2="591.2" y2="794.4" stroke="#231F20" stroke-width="3.4" stroke-linecap="butt"/>
<text x="472.54" y="802.84" fill="#231F20" style="font-size:47px;letter-spacing:2.3px;stroke:#231F20;stroke-width:1.3px">***</text>
<line x1="351.7" y1="825" x2="525" y2="825" stroke="#231F20" stroke-width="3.4" stroke-linecap="butt"/>
<text x="400.24" y="834.44" fill="#231F20" style="font-size:47px;letter-spacing:2.3px;stroke:#231F20;stroke-width:1.3px">***</text>
<line x1="353.4" y1="858" x2="418" y2="858" stroke="#231F20" stroke-width="3.4" stroke-linecap="butt"/>
<text x="354.24" y="866.74" fill="#231F20" style="font-size:47px;letter-spacing:2.3px;stroke:#231F20;stroke-width:1.3px">***</text>
<line x1="519.2" y1="921.8" x2="584.4" y2="921.8" stroke="#231F20" stroke-width="3.4" stroke-linecap="butt"/>
<text x="524.24" y="930.24" fill="#231F20" style="font-size:47px;letter-spacing:2.3px;stroke:#231F20;stroke-width:1.3px">***</text>
<rect x="636" y="770.6" width="46" height="22.8" fill="#6D6E71"/>
<rect x="636" y="813" width="46" height="23" fill="#007D40"/>
<text x="690.8" y="792" fill="#231F20" style="font-size:39px">Isotype</text>
<text x="691.2" y="835" fill="#006A38" style="font-size:39px">F9H4</text>
<g transform="translate(49.23 1144.2) rotate(-90)">
<text x="0" y="0" fill="#231F20" style="font-size:42.5px">CD16a</text>
<text x="132.29" y="-17" fill="#231F20" style="font-size:25px">+</text>
<text x="146.89" y="0" fill="#231F20" style="font-size:42.5px"> NK cells (%)</text>
</g>
<text x="116.79" y="1215.7" fill="#231F20" style="font-size:34.3px">NK cells</text>
<text x="118.14" y="1251.4" fill="#231F20" style="font-size:34.3px">alone</text>
<text x="325.34" y="1215.7" fill="#231F20" style="font-size:34.3px">+ A549</text>
<text x="298.01" y="1251.4" fill="#231F20" style="font-size:34.3px">and hIgG1</text>
<text x="325.28" y="1287" fill="#231F20" style="font-size:34.3px">isotype</text>
<text x="532.46" y="1215.7" fill="#231F20" style="font-size:34.3px">+ A549</text>
<text x="576.98" y="1251.4" fill="#231F20" style="font-size:34.3px">and</text>
<text x="485.61" y="1287" fill="#231F20" style="font-size:34.3px">cetuximab</text>
<text x="913.82" y="704.5" fill="#231F20" style="font-size:67px;font-weight:bold">F</text>
<rect x="1015.8" y="722.8" width="45.7" height="22.2" fill="#231F20"/>
<rect x="1015.8" y="765.4" width="45.7" height="22" fill="#007D40"/>
<text x="1069.4" y="744.5" fill="#231F20" style="font-size:39px">Isotype</text>
<text x="1069.8" y="793.4" fill="#006A38" style="font-size:39px">F9H4</text>
<path d="M1094.59 1131.5 L1094.59 1131.55 L1097.73 1129.46 L1100.87 1121.1 L1104 1108.55 L1107.14 1098.1 L1110.28 1091.82 L1113.41 1096.01 L1116.55 1106.46 L1120.73 1114.82 L1124.91 1121.1 L1129.1 1124.23 L1135.37 1125.28 L1141.64 1125.91 L1150.01 1126.95 L1156.28 1127.37 L1162.55 1126.95 L1168.82 1126.33 L1175.1 1124.23 L1181.37 1123.19 L1187.64 1122.14 L1193.92 1121.1 L1200.19 1120.05 L1204.37 1116.92 L1208.55 1114.82 L1212.73 1113.78 L1216.92 1112.73 L1221.1 1110.64 L1225.28 1106.46 L1229.46 1100.19 L1233.64 1091.82 L1237.83 1081.37 L1240.96 1066.73 L1244.1 1039.55 L1247.23 1008.19 L1250.37 978.91 L1253.51 958 L1255.6 943.37 L1257.69 929.78 L1259.78 932.91 L1261.87 953.82 L1263.96 978.91 L1266.05 1018.64 L1268.14 1060.46 L1271.28 1102.28 L1274.42 1123.19 L1277.55 1130.51 L1281.74 1131.55 L1281.74 1131.5 Z" fill="#7A787A"/>
<path d="M1094.59 1131.55 L1097.73 1129.46 L1100.87 1121.1 L1104 1108.55 L1107.14 1098.1 L1110.28 1091.82 L1113.41 1096.01 L1116.55 1106.46 L1120.73 1114.82 L1124.91 1121.1 L1129.1 1124.23 L1135.37 1125.28 L1141.64 1125.91 L1150.01 1126.95 L1156.28 1127.37 L1162.55 1126.95 L1168.82 1126.33 L1175.1 1124.23 L1181.37 1123.19 L1187.64 1122.14 L1193.92 1121.1 L1200.19 1120.05 L1204.37 1116.92 L1208.55 1114.82 L1212.73 1113.78 L1216.92 1112.73 L1221.1 1110.64 L1225.28 1106.46 L1229.46 1100.19 L1233.64 1091.82 L1237.83 1081.37 L1240.96 1066.73 L1244.1 1039.55 L1247.23 1008.19 L1250.37 978.91 L1253.51 958 L1255.6 943.37 L1257.69 929.78 L1259.78 932.91 L1261.87 953.82 L1263.96 978.91 L1266.05 1018.64 L1268.14 1060.46 L1271.28 1102.28 L1274.42 1123.19 L1277.55 1130.51 L1281.74 1131.55" fill="none" stroke="#231F20" stroke-width="2" stroke-linejoin="round"/>
<path d="M1095.64 1131.5 L1095.64 1131.55 L1098.78 1127.37 L1101.91 1112.73 L1105.05 1091.82 L1108.19 1077.19 L1110.7 1071.96 L1113.41 1079.28 L1116.55 1096.01 L1120.73 1110.64 L1127 1121.1 L1133.28 1124.23 L1141.64 1125.28 L1150.01 1125.91 L1158.37 1126.33 L1166.73 1125.7 L1173.01 1124.23 L1179.28 1121.1 L1185.55 1117.96 L1191.82 1115.87 L1196.01 1110.64 L1200.19 1108.55 L1204.37 1105.42 L1208.55 1100.19 L1211.69 1093.92 L1214.82 1096.01 L1216.92 1087.64 L1219.42 1081.37 L1221.1 1083.46 L1225.28 1073.01 L1229.46 1060.46 L1233.64 1045.82 L1237.83 1031.19 L1240.96 1016.55 L1244.1 997.73 L1246.19 985.19 L1249.33 966.37 L1251.42 937.09 L1252.46 919.32 L1254.55 924.55 L1256.64 939.18 L1259.78 953.82 L1262.92 987.28 L1266.05 1039.55 L1268.14 1081.37 L1270.24 1112.73 L1273.37 1129.46 L1277.55 1131.55 L1277.55 1131.5 Z" fill="rgba(88,175,104,0.51)"/>
<path d="M1095.64 1131.55 L1098.78 1127.37 L1101.91 1112.73 L1105.05 1091.82 L1108.19 1077.19 L1110.7 1071.96 L1113.41 1079.28 L1116.55 1096.01 L1120.73 1110.64 L1127 1121.1 L1133.28 1124.23 L1141.64 1125.28 L1150.01 1125.91 L1158.37 1126.33 L1166.73 1125.7 L1173.01 1124.23 L1179.28 1121.1 L1185.55 1117.96 L1191.82 1115.87 L1196.01 1110.64 L1200.19 1108.55 L1204.37 1105.42 L1208.55 1100.19 L1211.69 1093.92 L1214.82 1096.01 L1216.92 1087.64 L1219.42 1081.37 L1221.1 1083.46 L1225.28 1073.01 L1229.46 1060.46 L1233.64 1045.82 L1237.83 1031.19 L1240.96 1016.55 L1244.1 997.73 L1246.19 985.19 L1249.33 966.37 L1251.42 937.09 L1252.46 919.32 L1254.55 924.55 L1256.64 939.18 L1259.78 953.82 L1262.92 987.28 L1266.05 1039.55 L1268.14 1081.37 L1270.24 1112.73 L1273.37 1129.46 L1277.55 1131.55" fill="none" stroke="#00A651" stroke-width="2.6" stroke-linejoin="round"/>
<rect x="1074.7" y="903.2" width="229.3" height="228.8" fill="none" stroke="#231F20" stroke-width="1.3"/>
<line x1="1073.7" y1="1131.5" x2="1304" y2="1131.5" stroke="#231F20" stroke-width="1.8" stroke-linecap="butt"/>
<line x1="1074.7" y1="903.2" x2="1074.7" y2="1132.5" stroke="#231F20" stroke-width="2" stroke-linecap="butt"/>
<line x1="1054.7" y1="1130.9" x2="1074.7" y2="1130.9" stroke="#231F20" stroke-width="2.6" stroke-linecap="butt"/>
<line x1="1066.2" y1="1122.33" x2="1074.7" y2="1122.33" stroke="#231F20" stroke-width="2.6" stroke-linecap="butt"/>
<line x1="1066.2" y1="1113.76" x2="1074.7" y2="1113.76" stroke="#231F20" stroke-width="2.6" stroke-linecap="butt"/>
<line x1="1066.2" y1="1105.18" x2="1074.7" y2="1105.18" stroke="#231F20" stroke-width="2.6" stroke-linecap="butt"/>
<line x1="1066.2" y1="1096.61" x2="1074.7" y2="1096.61" stroke="#231F20" stroke-width="2.6" stroke-linecap="butt"/>
<line x1="1054.7" y1="1088.04" x2="1074.7" y2="1088.04" stroke="#231F20" stroke-width="2.6" stroke-linecap="butt"/>
<line x1="1066.2" y1="1079.47" x2="1074.7" y2="1079.47" stroke="#231F20" stroke-width="2.6" stroke-linecap="butt"/>
<line x1="1066.2" y1="1070.9" x2="1074.7" y2="1070.9" stroke="#231F20" stroke-width="2.6" stroke-linecap="butt"/>
<line x1="1066.2" y1="1062.32" x2="1074.7" y2="1062.32" stroke="#231F20" stroke-width="2.6" stroke-linecap="butt"/>
<line x1="1066.2" y1="1053.75" x2="1074.7" y2="1053.75" stroke="#231F20" stroke-width="2.6" stroke-linecap="butt"/>
<line x1="1054.7" y1="1045.18" x2="1074.7" y2="1045.18" stroke="#231F20" stroke-width="2.6" stroke-linecap="butt"/>
<line x1="1066.2" y1="1036.61" x2="1074.7" y2="1036.61" stroke="#231F20" stroke-width="2.6" stroke-linecap="butt"/>
<line x1="1066.2" y1="1028.04" x2="1074.7" y2="1028.04" stroke="#231F20" stroke-width="2.6" stroke-linecap="butt"/>
<line x1="1066.2" y1="1019.46" x2="1074.7" y2="1019.46" stroke="#231F20" stroke-width="2.6" stroke-linecap="butt"/>
<line x1="1066.2" y1="1010.89" x2="1074.7" y2="1010.89" stroke="#231F20" stroke-width="2.6" stroke-linecap="butt"/>
<line x1="1054.7" y1="1002.32" x2="1074.7" y2="1002.32" stroke="#231F20" stroke-width="2.6" stroke-linecap="butt"/>
<line x1="1066.2" y1="993.75" x2="1074.7" y2="993.75" stroke="#231F20" stroke-width="2.6" stroke-linecap="butt"/>
<line x1="1066.2" y1="985.18" x2="1074.7" y2="985.18" stroke="#231F20" stroke-width="2.6" stroke-linecap="butt"/>
<line x1="1066.2" y1="976.6" x2="1074.7" y2="976.6" stroke="#231F20" stroke-width="2.6" stroke-linecap="butt"/>
<line x1="1066.2" y1="968.03" x2="1074.7" y2="968.03" stroke="#231F20" stroke-width="2.6" stroke-linecap="butt"/>
<line x1="1054.7" y1="959.46" x2="1074.7" y2="959.46" stroke="#231F20" stroke-width="2.6" stroke-linecap="butt"/>
<line x1="1066.2" y1="950.89" x2="1074.7" y2="950.89" stroke="#231F20" stroke-width="2.6" stroke-linecap="butt"/>
<line x1="1066.2" y1="942.32" x2="1074.7" y2="942.32" stroke="#231F20" stroke-width="2.6" stroke-linecap="butt"/>
<line x1="1066.2" y1="933.74" x2="1074.7" y2="933.74" stroke="#231F20" stroke-width="2.6" stroke-linecap="butt"/>
<line x1="1066.2" y1="925.17" x2="1074.7" y2="925.17" stroke="#231F20" stroke-width="2.6" stroke-linecap="butt"/>
<line x1="1054.7" y1="916.6" x2="1074.7" y2="916.6" stroke="#231F20" stroke-width="2.6" stroke-linecap="butt"/>
<line x1="1066.2" y1="908.03" x2="1074.7" y2="908.03" stroke="#231F20" stroke-width="2.6" stroke-linecap="butt"/>
<line x1="1066.2" y1="904.4" x2="1074.7" y2="904.4" stroke="#231F20" stroke-width="2.6" stroke-linecap="butt"/>
<line x1="1084" y1="1131.5" x2="1084" y2="1142.5" stroke="#231F20" stroke-width="2.7" stroke-linecap="butt"/>
<line x1="1095.8" y1="1131.5" x2="1095.8" y2="1154.2" stroke="#231F20" stroke-width="2.7" stroke-linecap="butt"/>
<line x1="1101.6" y1="1131.5" x2="1101.6" y2="1148.3" stroke="#231F20" stroke-width="2.7" stroke-linecap="butt"/>
<line x1="1108.2" y1="1131.5" x2="1108.2" y2="1154.2" stroke="#231F20" stroke-width="2.7" stroke-linecap="butt"/>
<line x1="1114.8" y1="1131.5" x2="1114.8" y2="1148.3" stroke="#231F20" stroke-width="2.7" stroke-linecap="butt"/>
<line x1="1120.6" y1="1131.5" x2="1120.6" y2="1154.2" stroke="#231F20" stroke-width="2.7" stroke-linecap="butt"/>
<line x1="1132.4" y1="1131.5" x2="1132.4" y2="1142.5" stroke="#231F20" stroke-width="2.7" stroke-linecap="butt"/>
<line x1="1141.1" y1="1131.5" x2="1141.1" y2="1142.5" stroke="#231F20" stroke-width="2.7" stroke-linecap="butt"/>
<line x1="1149.9" y1="1131.5" x2="1149.9" y2="1142.5" stroke="#231F20" stroke-width="2.7" stroke-linecap="butt"/>
<line x1="1156.5" y1="1131.5" x2="1156.5" y2="1148.3" stroke="#231F20" stroke-width="2.7" stroke-linecap="butt"/>
<line x1="1160.9" y1="1131.5" x2="1160.9" y2="1142.5" stroke="#231F20" stroke-width="2.7" stroke-linecap="butt"/>
<line x1="1163.8" y1="1131.5" x2="1163.8" y2="1142.5" stroke="#231F20" stroke-width="2.7" stroke-linecap="butt"/>
<line x1="1166.7" y1="1131.5" x2="1166.7" y2="1142.5" stroke="#231F20" stroke-width="2.7" stroke-linecap="butt"/>
<line x1="1169.7" y1="1131.5" x2="1169.7" y2="1142.5" stroke="#231F20" stroke-width="2.7" stroke-linecap="butt"/>
<line x1="1171.9" y1="1131.5" x2="1171.9" y2="1142.5" stroke="#231F20" stroke-width="2.7" stroke-linecap="butt"/>
<line x1="1174.1" y1="1131.5" x2="1174.1" y2="1154.2" stroke="#231F20" stroke-width="2.7" stroke-linecap="butt"/>
<line x1="1189.4" y1="1131.5" x2="1189.4" y2="1142.5" stroke="#231F20" stroke-width="2.7" stroke-linecap="butt"/>
<line x1="1201.1" y1="1131.5" x2="1201.1" y2="1142.5" stroke="#231F20" stroke-width="2.7" stroke-linecap="butt"/>
<line x1="1206.2" y1="1131.5" x2="1206.2" y2="1142.5" stroke="#231F20" stroke-width="2.7" stroke-linecap="butt"/>
<line x1="1210.7" y1="1131.5" x2="1210.7" y2="1148.3" stroke="#231F20" stroke-width="2.7" stroke-linecap="butt"/>
<line x1="1215.1" y1="1131.5" x2="1215.1" y2="1142.5" stroke="#231F20" stroke-width="2.7" stroke-linecap="butt"/>
<line x1="1218" y1="1131.5" x2="1218" y2="1142.5" stroke="#231F20" stroke-width="2.7" stroke-linecap="butt"/>
<line x1="1220.9" y1="1131.5" x2="1220.9" y2="1142.5" stroke="#231F20" stroke-width="2.7" stroke-linecap="butt"/>
<line x1="1223.1" y1="1131.5" x2="1223.1" y2="1142.5" stroke="#231F20" stroke-width="2.7" stroke-linecap="butt"/>
<line x1="1225.3" y1="1131.5" x2="1225.3" y2="1142.5" stroke="#231F20" stroke-width="2.7" stroke-linecap="butt"/>
<line x1="1229" y1="1131.5" x2="1229" y2="1154.2" stroke="#231F20" stroke-width="2.7" stroke-linecap="butt"/>
<line x1="1243.6" y1="1131.5" x2="1243.6" y2="1142.5" stroke="#231F20" stroke-width="2.7" stroke-linecap="butt"/>
<line x1="1252.4" y1="1131.5" x2="1252.4" y2="1142.5" stroke="#231F20" stroke-width="2.7" stroke-linecap="butt"/>
<line x1="1259" y1="1131.5" x2="1259" y2="1142.5" stroke="#231F20" stroke-width="2.7" stroke-linecap="butt"/>
<line x1="1264.8" y1="1131.5" x2="1264.8" y2="1148.3" stroke="#231F20" stroke-width="2.7" stroke-linecap="butt"/>
<line x1="1268.5" y1="1131.5" x2="1268.5" y2="1142.5" stroke="#231F20" stroke-width="2.7" stroke-linecap="butt"/>
<line x1="1271.4" y1="1131.5" x2="1271.4" y2="1142.5" stroke="#231F20" stroke-width="2.7" stroke-linecap="butt"/>
<line x1="1274.3" y1="1131.5" x2="1274.3" y2="1142.5" stroke="#231F20" stroke-width="2.7" stroke-linecap="butt"/>
<line x1="1276.5" y1="1131.5" x2="1276.5" y2="1142.5" stroke="#231F20" stroke-width="2.7" stroke-linecap="butt"/>
<line x1="1278.7" y1="1131.5" x2="1278.7" y2="1142.5" stroke="#231F20" stroke-width="2.7" stroke-linecap="butt"/>
<line x1="1280.2" y1="1131.5" x2="1280.2" y2="1154.2" stroke="#231F20" stroke-width="2.7" stroke-linecap="butt"/>
<line x1="1295.6" y1="1131.5" x2="1295.6" y2="1142.5" stroke="#231F20" stroke-width="2.7" stroke-linecap="butt"/>
<rect x="1094.6" y="1131.5" width="27.4" height="11" fill="#231F20"/>
<text x="1098.47" y="1182.8" fill="#231F20" style="font-size:35px">0</text>
<text x="1148.52" y="1182.8" fill="#231F20" style="font-size:35px">10</text>
<text x="1187.1" y="1174.16" fill="#231F20" style="font-size:21px;font-weight:bold">3</text>
<text x="1203.01" y="1182.8" fill="#231F20" style="font-size:35px">10</text>
<text x="1241.76" y="1173.95" fill="#231F20" style="font-size:21px;font-weight:bold">4</text>
<text x="1259.11" y="1182.8" fill="#231F20" style="font-size:35px">10</text>
<text x="1297.53" y="1173.95" fill="#231F20" style="font-size:21px;font-weight:bold">5</text>
<text x="1033.6" y="1142.1" fill="#231F20" style="font-size:35px">0</text>
<text x="1014.14" y="1099.24" fill="#231F20" style="font-size:35px">20</text>
<text x="1014.14" y="1056.38" fill="#231F20" style="font-size:35px">40</text>
<text x="1014.14" y="1013.52" fill="#231F20" style="font-size:35px">60</text>
<text x="1014.14" y="970.66" fill="#231F20" style="font-size:35px">80</text>
<text x="994.67" y="927.8" fill="#231F20" style="font-size:35px">100</text>
<path d="M1365.46 1131.5 L1365.46 1131.55 L1369.64 1127.37 L1372.78 1112.73 L1375.91 1081.37 L1378.42 1039.55 L1380.51 1016.55 L1382.19 1014.46 L1384.28 1020.73 L1386.37 1039.55 L1388.88 1060.46 L1391.59 1081.37 L1394.73 1096.01 L1398.91 1104.37 L1403.09 1116.92 L1407.28 1117.96 L1410.41 1116.92 L1413.55 1120.05 L1417.31 1123.19 L1420.87 1121.1 L1424 1117.96 L1428.19 1116.92 L1432.37 1114.82 L1436.55 1113.78 L1440.73 1111.69 L1444.91 1109.6 L1449.1 1107.51 L1455.37 1101.23 L1459.55 1094.96 L1463.73 1089.73 L1466.87 1070.91 L1470.01 1066.73 L1474.19 1060.46 L1478.37 1046.87 L1482.55 1037.46 L1485.69 1020.73 L1488.82 1018.64 L1493.01 1012.37 L1496.14 997.73 L1499.28 985.19 L1502.42 974.73 L1505.55 966.37 L1508.69 956.96 L1511.82 945.46 L1514.96 927.68 L1518.1 941.28 L1521.23 966.37 L1524.37 999.82 L1527.51 1039.55 L1530.64 1083.46 L1533.78 1116.92 L1536.92 1128.42 L1541.1 1131.55 L1541.1 1131.5 Z" fill="#7A787A"/>
<path d="M1365.46 1131.55 L1369.64 1127.37 L1372.78 1112.73 L1375.91 1081.37 L1378.42 1039.55 L1380.51 1016.55 L1382.19 1014.46 L1384.28 1020.73 L1386.37 1039.55 L1388.88 1060.46 L1391.59 1081.37 L1394.73 1096.01 L1398.91 1104.37 L1403.09 1116.92 L1407.28 1117.96 L1410.41 1116.92 L1413.55 1120.05 L1417.31 1123.19 L1420.87 1121.1 L1424 1117.96 L1428.19 1116.92 L1432.37 1114.82 L1436.55 1113.78 L1440.73 1111.69 L1444.91 1109.6 L1449.1 1107.51 L1455.37 1101.23 L1459.55 1094.96 L1463.73 1089.73 L1466.87 1070.91 L1470.01 1066.73 L1474.19 1060.46 L1478.37 1046.87 L1482.55 1037.46 L1485.69 1020.73 L1488.82 1018.64 L1493.01 1012.37 L1496.14 997.73 L1499.28 985.19 L1502.42 974.73 L1505.55 966.37 L1508.69 956.96 L1511.82 945.46 L1514.96 927.68 L1518.1 941.28 L1521.23 966.37 L1524.37 999.82 L1527.51 1039.55 L1530.64 1083.46 L1533.78 1116.92 L1536.92 1128.42 L1541.1 1131.55" fill="none" stroke="#231F20" stroke-width="2" stroke-linejoin="round"/>
<path d="M1366.5 1131.5 L1366.5 1131.55 L1370.68 1125.28 L1374.87 1110.64 L1378 1091.82 L1380.51 1075.1 L1382.6 1067.78 L1384.69 1077.19 L1387.41 1098.1 L1390.55 1113.78 L1394.73 1115.87 L1398.91 1121.1 L1403.09 1125.28 L1407.28 1127.37 L1413.55 1128.42 L1421.91 1128 L1428.19 1127.37 L1434.46 1126.95 L1440.73 1125.7 L1447 1124.86 L1453.28 1124.23 L1457.46 1122.14 L1461.64 1119.01 L1465.82 1112.73 L1470.01 1108.55 L1474.19 1101.23 L1478.37 1098.1 L1482.55 1089.73 L1486.73 1079.28 L1490.91 1070.91 L1495.1 1056.28 L1499.28 1037.46 L1503.46 1016.55 L1507.64 997.73 L1509.73 966.37 L1511.82 947.55 L1513.5 942.32 L1515.59 953.82 L1518.1 949.64 L1521.23 966.37 L1524.37 991.46 L1527.51 1033.28 L1530.64 1081.37 L1533.78 1116.92 L1536.92 1128.42 L1541.1 1131.55 L1541.1 1131.5 Z" fill="rgba(88,175,104,0.51)"/>
<path d="M1366.5 1131.55 L1370.68 1125.28 L1374.87 1110.64 L1378 1091.82 L1380.51 1075.1 L1382.6 1067.78 L1384.69 1077.19 L1387.41 1098.1 L1390.55 1113.78 L1394.73 1115.87 L1398.91 1121.1 L1403.09 1125.28 L1407.28 1127.37 L1413.55 1128.42 L1421.91 1128 L1428.19 1127.37 L1434.46 1126.95 L1440.73 1125.7 L1447 1124.86 L1453.28 1124.23 L1457.46 1122.14 L1461.64 1119.01 L1465.82 1112.73 L1470.01 1108.55 L1474.19 1101.23 L1478.37 1098.1 L1482.55 1089.73 L1486.73 1079.28 L1490.91 1070.91 L1495.1 1056.28 L1499.28 1037.46 L1503.46 1016.55 L1507.64 997.73 L1509.73 966.37 L1511.82 947.55 L1513.5 942.32 L1515.59 953.82 L1518.1 949.64 L1521.23 966.37 L1524.37 991.46 L1527.51 1033.28 L1530.64 1081.37 L1533.78 1116.92 L1536.92 1128.42 L1541.1 1131.55" fill="none" stroke="#00A651" stroke-width="2.6" stroke-linejoin="round"/>
<rect x="1345.6" y="903.2" width="229.3" height="228.8" fill="none" stroke="#231F20" stroke-width="1.3"/>
<line x1="1344.6" y1="1131.5" x2="1574.9" y2="1131.5" stroke="#231F20" stroke-width="1.8" stroke-linecap="butt"/>
<line x1="1345.6" y1="903.2" x2="1345.6" y2="1132.5" stroke="#231F20" stroke-width="2" stroke-linecap="butt"/>
<line x1="1325.6" y1="1130.9" x2="1345.6" y2="1130.9" stroke="#231F20" stroke-width="2.6" stroke-linecap="butt"/>
<line x1="1337.1" y1="1122.33" x2="1345.6" y2="1122.33" stroke="#231F20" stroke-width="2.6" stroke-linecap="butt"/>
<line x1="1337.1" y1="1113.76" x2="1345.6" y2="1113.76" stroke="#231F20" stroke-width="2.6" stroke-linecap="butt"/>
<line x1="1337.1" y1="1105.18" x2="1345.6" y2="1105.18" stroke="#231F20" stroke-width="2.6" stroke-linecap="butt"/>
<line x1="1337.1" y1="1096.61" x2="1345.6" y2="1096.61" stroke="#231F20" stroke-width="2.6" stroke-linecap="butt"/>
<line x1="1325.6" y1="1088.04" x2="1345.6" y2="1088.04" stroke="#231F20" stroke-width="2.6" stroke-linecap="butt"/>
<line x1="1337.1" y1="1079.47" x2="1345.6" y2="1079.47" stroke="#231F20" stroke-width="2.6" stroke-linecap="butt"/>
<line x1="1337.1" y1="1070.9" x2="1345.6" y2="1070.9" stroke="#231F20" stroke-width="2.6" stroke-linecap="butt"/>
<line x1="1337.1" y1="1062.32" x2="1345.6" y2="1062.32" stroke="#231F20" stroke-width="2.6" stroke-linecap="butt"/>
<line x1="1337.1" y1="1053.75" x2="1345.6" y2="1053.75" stroke="#231F20" stroke-width="2.6" stroke-linecap="butt"/>
<line x1="1325.6" y1="1045.18" x2="1345.6" y2="1045.18" stroke="#231F20" stroke-width="2.6" stroke-linecap="butt"/>
<line x1="1337.1" y1="1036.61" x2="1345.6" y2="1036.61" stroke="#231F20" stroke-width="2.6" stroke-linecap="butt"/>
<line x1="1337.1" y1="1028.04" x2="1345.6" y2="1028.04" stroke="#231F20" stroke-width="2.6" stroke-linecap="butt"/>
<line x1="1337.1" y1="1019.46" x2="1345.6" y2="1019.46" stroke="#231F20" stroke-width="2.6" stroke-linecap="butt"/>
<line x1="1337.1" y1="1010.89" x2="1345.6" y2="1010.89" stroke="#231F20" stroke-width="2.6" stroke-linecap="butt"/>
<line x1="1325.6" y1="1002.32" x2="1345.6" y2="1002.32" stroke="#231F20" stroke-width="2.6" stroke-linecap="butt"/>
<line x1="1337.1" y1="993.75" x2="1345.6" y2="993.75" stroke="#231F20" stroke-width="2.6" stroke-linecap="butt"/>
<line x1="1337.1" y1="985.18" x2="1345.6" y2="985.18" stroke="#231F20" stroke-width="2.6" stroke-linecap="butt"/>
<line x1="1337.1" y1="976.6" x2="1345.6" y2="976.6" stroke="#231F20" stroke-width="2.6" stroke-linecap="butt"/>
<line x1="1337.1" y1="968.03" x2="1345.6" y2="968.03" stroke="#231F20" stroke-width="2.6" stroke-linecap="butt"/>
<line x1="1325.6" y1="959.46" x2="1345.6" y2="959.46" stroke="#231F20" stroke-width="2.6" stroke-linecap="butt"/>
<line x1="1337.1" y1="950.89" x2="1345.6" y2="950.89" stroke="#231F20" stroke-width="2.6" stroke-linecap="butt"/>
<line x1="1337.1" y1="942.32" x2="1345.6" y2="942.32" stroke="#231F20" stroke-width="2.6" stroke-linecap="butt"/>
<line x1="1337.1" y1="933.74" x2="1345.6" y2="933.74" stroke="#231F20" stroke-width="2.6" stroke-linecap="butt"/>
<line x1="1337.1" y1="925.17" x2="1345.6" y2="925.17" stroke="#231F20" stroke-width="2.6" stroke-linecap="butt"/>
<line x1="1325.6" y1="916.6" x2="1345.6" y2="916.6" stroke="#231F20" stroke-width="2.6" stroke-linecap="butt"/>
<line x1="1337.1" y1="908.03" x2="1345.6" y2="908.03" stroke="#231F20" stroke-width="2.6" stroke-linecap="butt"/>
<line x1="1337.1" y1="904.4" x2="1345.6" y2="904.4" stroke="#231F20" stroke-width="2.6" stroke-linecap="butt"/>
<line x1="1354.9" y1="1131.5" x2="1354.9" y2="1142.5" stroke="#231F20" stroke-width="2.7" stroke-linecap="butt"/>
<line x1="1366.7" y1="1131.5" x2="1366.7" y2="1154.2" stroke="#231F20" stroke-width="2.7" stroke-linecap="butt"/>
<line x1="1372.5" y1="1131.5" x2="1372.5" y2="1148.3" stroke="#231F20" stroke-width="2.7" stroke-linecap="butt"/>
<line x1="1379.1" y1="1131.5" x2="1379.1" y2="1154.2" stroke="#231F20" stroke-width="2.7" stroke-linecap="butt"/>
<line x1="1385.7" y1="1131.5" x2="1385.7" y2="1148.3" stroke="#231F20" stroke-width="2.7" stroke-linecap="butt"/>
<line x1="1391.5" y1="1131.5" x2="1391.5" y2="1154.2" stroke="#231F20" stroke-width="2.7" stroke-linecap="butt"/>
<line x1="1403.3" y1="1131.5" x2="1403.3" y2="1142.5" stroke="#231F20" stroke-width="2.7" stroke-linecap="butt"/>
<line x1="1412" y1="1131.5" x2="1412" y2="1142.5" stroke="#231F20" stroke-width="2.7" stroke-linecap="butt"/>
<line x1="1420.8" y1="1131.5" x2="1420.8" y2="1142.5" stroke="#231F20" stroke-width="2.7" stroke-linecap="butt"/>
<line x1="1427.4" y1="1131.5" x2="1427.4" y2="1148.3" stroke="#231F20" stroke-width="2.7" stroke-linecap="butt"/>
<line x1="1431.8" y1="1131.5" x2="1431.8" y2="1142.5" stroke="#231F20" stroke-width="2.7" stroke-linecap="butt"/>
<line x1="1434.7" y1="1131.5" x2="1434.7" y2="1142.5" stroke="#231F20" stroke-width="2.7" stroke-linecap="butt"/>
<line x1="1437.6" y1="1131.5" x2="1437.6" y2="1142.5" stroke="#231F20" stroke-width="2.7" stroke-linecap="butt"/>
<line x1="1440.6" y1="1131.5" x2="1440.6" y2="1142.5" stroke="#231F20" stroke-width="2.7" stroke-linecap="butt"/>
<line x1="1442.8" y1="1131.5" x2="1442.8" y2="1142.5" stroke="#231F20" stroke-width="2.7" stroke-linecap="butt"/>
<line x1="1445" y1="1131.5" x2="1445" y2="1154.2" stroke="#231F20" stroke-width="2.7" stroke-linecap="butt"/>
<line x1="1460.3" y1="1131.5" x2="1460.3" y2="1142.5" stroke="#231F20" stroke-width="2.7" stroke-linecap="butt"/>
<line x1="1472" y1="1131.5" x2="1472" y2="1142.5" stroke="#231F20" stroke-width="2.7" stroke-linecap="butt"/>
<line x1="1477.1" y1="1131.5" x2="1477.1" y2="1142.5" stroke="#231F20" stroke-width="2.7" stroke-linecap="butt"/>
<line x1="1481.6" y1="1131.5" x2="1481.6" y2="1148.3" stroke="#231F20" stroke-width="2.7" stroke-linecap="butt"/>
<line x1="1486" y1="1131.5" x2="1486" y2="1142.5" stroke="#231F20" stroke-width="2.7" stroke-linecap="butt"/>
<line x1="1488.9" y1="1131.5" x2="1488.9" y2="1142.5" stroke="#231F20" stroke-width="2.7" stroke-linecap="butt"/>
<line x1="1491.8" y1="1131.5" x2="1491.8" y2="1142.5" stroke="#231F20" stroke-width="2.7" stroke-linecap="butt"/>
<line x1="1494" y1="1131.5" x2="1494" y2="1142.5" stroke="#231F20" stroke-width="2.7" stroke-linecap="butt"/>
<line x1="1496.2" y1="1131.5" x2="1496.2" y2="1142.5" stroke="#231F20" stroke-width="2.7" stroke-linecap="butt"/>
<line x1="1499.9" y1="1131.5" x2="1499.9" y2="1154.2" stroke="#231F20" stroke-width="2.7" stroke-linecap="butt"/>
<line x1="1514.5" y1="1131.5" x2="1514.5" y2="1142.5" stroke="#231F20" stroke-width="2.7" stroke-linecap="butt"/>
<line x1="1523.3" y1="1131.5" x2="1523.3" y2="1142.5" stroke="#231F20" stroke-width="2.7" stroke-linecap="butt"/>
<line x1="1529.9" y1="1131.5" x2="1529.9" y2="1142.5" stroke="#231F20" stroke-width="2.7" stroke-linecap="butt"/>
<line x1="1535.7" y1="1131.5" x2="1535.7" y2="1148.3" stroke="#231F20" stroke-width="2.7" stroke-linecap="butt"/>
<line x1="1539.4" y1="1131.5" x2="1539.4" y2="1142.5" stroke="#231F20" stroke-width="2.7" stroke-linecap="butt"/>
<line x1="1542.3" y1="1131.5" x2="1542.3" y2="1142.5" stroke="#231F20" stroke-width="2.7" stroke-linecap="butt"/>
<line x1="1545.2" y1="1131.5" x2="1545.2" y2="1142.5" stroke="#231F20" stroke-width="2.7" stroke-linecap="butt"/>
<line x1="1547.4" y1="1131.5" x2="1547.4" y2="1142.5" stroke="#231F20" stroke-width="2.7" stroke-linecap="butt"/>
<line x1="1549.6" y1="1131.5" x2="1549.6" y2="1142.5" stroke="#231F20" stroke-width="2.7" stroke-linecap="butt"/>
<line x1="1551.1" y1="1131.5" x2="1551.1" y2="1154.2" stroke="#231F20" stroke-width="2.7" stroke-linecap="butt"/>
<line x1="1566.5" y1="1131.5" x2="1566.5" y2="1142.5" stroke="#231F20" stroke-width="2.7" stroke-linecap="butt"/>
<rect x="1365.5" y="1131.5" width="27.4" height="11" fill="#231F20"/>
<text x="1369.37" y="1182.8" fill="#231F20" style="font-size:35px">0</text>
<text x="1419.42" y="1182.8" fill="#231F20" style="font-size:35px">10</text>
<text x="1458" y="1174.16" fill="#231F20" style="font-size:21px;font-weight:bold">3</text>
<text x="1473.91" y="1182.8" fill="#231F20" style="font-size:35px">10</text>
<text x="1512.66" y="1173.95" fill="#231F20" style="font-size:21px;font-weight:bold">4</text>
<text x="1530.01" y="1182.8" fill="#231F20" style="font-size:35px">10</text>
<text x="1568.43" y="1173.95" fill="#231F20" style="font-size:21px;font-weight:bold">5</text>
<path d="M1637.37 1131.5 L1637.37 1131.55 L1640.5 1127.37 L1643.64 1108.55 L1646.77 1050.01 L1648.87 1008.19 L1650.96 966.37 L1653.67 940.23 L1656.18 955.91 L1659.32 997.73 L1662.46 1039.55 L1664.55 1035.37 L1666.64 1033.28 L1669.78 1037.46 L1673.96 1045.82 L1677.09 1047.91 L1681.28 1052.1 L1685.46 1033.28 L1689.64 1016.55 L1693.82 1017.6 L1696.96 1021.78 L1700.09 1010.28 L1704.28 1004 L1706.37 991.46 L1708.46 985.19 L1710.55 987.28 L1713.69 995.64 L1716.82 966.37 L1718.91 964.28 L1721 983.09 L1724.14 970.55 L1727.28 962.19 L1730.41 966.37 L1733.55 974.73 L1737.73 978.91 L1739.82 974.73 L1741.91 971.59 L1744 974.73 L1746.1 987.28 L1748.19 983.09 L1750.28 985.19 L1752.37 1008.19 L1754.46 1020.73 L1757.6 1020.73 L1760.73 1027 L1763.87 1033.28 L1767 1027 L1769.1 1041.64 L1773.28 1056.28 L1777.46 1054.19 L1781.64 1047.91 L1785.82 1056.28 L1788.96 1058.37 L1792.1 1050.01 L1795.23 1050.01 L1798.37 1058.37 L1802.55 1075.1 L1806.73 1098.1 L1810.91 1116.92 L1815.1 1127.37 L1819.28 1131.55 L1819.28 1131.5 Z" fill="#7A787A"/>
<path d="M1637.37 1131.55 L1640.5 1127.37 L1643.64 1108.55 L1646.77 1050.01 L1648.87 1008.19 L1650.96 966.37 L1653.67 940.23 L1656.18 955.91 L1659.32 997.73 L1662.46 1039.55 L1664.55 1035.37 L1666.64 1033.28 L1669.78 1037.46 L1673.96 1045.82 L1677.09 1047.91 L1681.28 1052.1 L1685.46 1033.28 L1689.64 1016.55 L1693.82 1017.6 L1696.96 1021.78 L1700.09 1010.28 L1704.28 1004 L1706.37 991.46 L1708.46 985.19 L1710.55 987.28 L1713.69 995.64 L1716.82 966.37 L1718.91 964.28 L1721 983.09 L1724.14 970.55 L1727.28 962.19 L1730.41 966.37 L1733.55 974.73 L1737.73 978.91 L1739.82 974.73 L1741.91 971.59 L1744 974.73 L1746.1 987.28 L1748.19 983.09 L1750.28 985.19 L1752.37 1008.19 L1754.46 1020.73 L1757.6 1020.73 L1760.73 1027 L1763.87 1033.28 L1767 1027 L1769.1 1041.64 L1773.28 1056.28 L1777.46 1054.19 L1781.64 1047.91 L1785.82 1056.28 L1788.96 1058.37 L1792.1 1050.01 L1795.23 1050.01 L1798.37 1058.37 L1802.55 1075.1 L1806.73 1098.1 L1810.91 1116.92 L1815.1 1127.37 L1819.28 1131.55" fill="none" stroke="#231F20" stroke-width="2" stroke-linejoin="round"/>
<path d="M1639.46 1131.5 L1639.46 1131.55 L1643.64 1127.37 L1647.82 1102.28 L1650.96 1070.91 L1654.09 1054.19 L1657.23 1062.55 L1660.37 1087.64 L1664.55 1104.37 L1668.73 1116.92 L1672.91 1123.19 L1677.09 1125.28 L1683.37 1126.33 L1689.64 1124.23 L1695.91 1122.14 L1702.19 1121.1 L1708.46 1117.96 L1718.91 1117.96 L1723.09 1108.55 L1727.28 1100.19 L1731.46 1093.92 L1735.64 1085.55 L1739.82 1064.64 L1744 1056.28 L1747.14 1041.64 L1749.23 1033.28 L1751.32 1031.19 L1754.46 1021.78 L1757.6 1008.19 L1760.73 978.91 L1763.87 968.46 L1767 974.73 L1770.14 966.37 L1773.28 949.64 L1775.79 927.68 L1778.5 945.46 L1781.64 964.28 L1784.15 962.19 L1786.87 985.19 L1790.01 997.73 L1793.14 1018.64 L1796.28 1043.73 L1799.41 1060.46 L1803.6 1087.64 L1807.78 1112.73 L1811.96 1125.28 L1816.14 1130.51 L1819.28 1131.55 L1819.28 1131.5 Z" fill="rgba(88,175,104,0.51)"/>
<path d="M1639.46 1131.55 L1643.64 1127.37 L1647.82 1102.28 L1650.96 1070.91 L1654.09 1054.19 L1657.23 1062.55 L1660.37 1087.64 L1664.55 1104.37 L1668.73 1116.92 L1672.91 1123.19 L1677.09 1125.28 L1683.37 1126.33 L1689.64 1124.23 L1695.91 1122.14 L1702.19 1121.1 L1708.46 1117.96 L1718.91 1117.96 L1723.09 1108.55 L1727.28 1100.19 L1731.46 1093.92 L1735.64 1085.55 L1739.82 1064.64 L1744 1056.28 L1747.14 1041.64 L1749.23 1033.28 L1751.32 1031.19 L1754.46 1021.78 L1757.6 1008.19 L1760.73 978.91 L1763.87 968.46 L1767 974.73 L1770.14 966.37 L1773.28 949.64 L1775.79 927.68 L1778.5 945.46 L1781.64 964.28 L1784.15 962.19 L1786.87 985.19 L1790.01 997.73 L1793.14 1018.64 L1796.28 1043.73 L1799.41 1060.46 L1803.6 1087.64 L1807.78 1112.73 L1811.96 1125.28 L1816.14 1130.51 L1819.28 1131.55" fill="none" stroke="#00A651" stroke-width="2.6" stroke-linejoin="round"/>
<rect x="1616.5" y="903.2" width="229.3" height="228.8" fill="none" stroke="#231F20" stroke-width="1.3"/>
<line x1="1615.5" y1="1131.5" x2="1845.8" y2="1131.5" stroke="#231F20" stroke-width="1.8" stroke-linecap="butt"/>
<line x1="1616.5" y1="903.2" x2="1616.5" y2="1132.5" stroke="#231F20" stroke-width="2" stroke-linecap="butt"/>
<line x1="1596.5" y1="1130.9" x2="1616.5" y2="1130.9" stroke="#231F20" stroke-width="2.6" stroke-linecap="butt"/>
<line x1="1608" y1="1122.33" x2="1616.5" y2="1122.33" stroke="#231F20" stroke-width="2.6" stroke-linecap="butt"/>
<line x1="1608" y1="1113.76" x2="1616.5" y2="1113.76" stroke="#231F20" stroke-width="2.6" stroke-linecap="butt"/>
<line x1="1608" y1="1105.18" x2="1616.5" y2="1105.18" stroke="#231F20" stroke-width="2.6" stroke-linecap="butt"/>
<line x1="1608" y1="1096.61" x2="1616.5" y2="1096.61" stroke="#231F20" stroke-width="2.6" stroke-linecap="butt"/>
<line x1="1596.5" y1="1088.04" x2="1616.5" y2="1088.04" stroke="#231F20" stroke-width="2.6" stroke-linecap="butt"/>
<line x1="1608" y1="1079.47" x2="1616.5" y2="1079.47" stroke="#231F20" stroke-width="2.6" stroke-linecap="butt"/>
<line x1="1608" y1="1070.9" x2="1616.5" y2="1070.9" stroke="#231F20" stroke-width="2.6" stroke-linecap="butt"/>
<line x1="1608" y1="1062.32" x2="1616.5" y2="1062.32" stroke="#231F20" stroke-width="2.6" stroke-linecap="butt"/>
<line x1="1608" y1="1053.75" x2="1616.5" y2="1053.75" stroke="#231F20" stroke-width="2.6" stroke-linecap="butt"/>
<line x1="1596.5" y1="1045.18" x2="1616.5" y2="1045.18" stroke="#231F20" stroke-width="2.6" stroke-linecap="butt"/>
<line x1="1608" y1="1036.61" x2="1616.5" y2="1036.61" stroke="#231F20" stroke-width="2.6" stroke-linecap="butt"/>
<line x1="1608" y1="1028.04" x2="1616.5" y2="1028.04" stroke="#231F20" stroke-width="2.6" stroke-linecap="butt"/>
<line x1="1608" y1="1019.46" x2="1616.5" y2="1019.46" stroke="#231F20" stroke-width="2.6" stroke-linecap="butt"/>
<line x1="1608" y1="1010.89" x2="1616.5" y2="1010.89" stroke="#231F20" stroke-width="2.6" stroke-linecap="butt"/>
<line x1="1596.5" y1="1002.32" x2="1616.5" y2="1002.32" stroke="#231F20" stroke-width="2.6" stroke-linecap="butt"/>
<line x1="1608" y1="993.75" x2="1616.5" y2="993.75" stroke="#231F20" stroke-width="2.6" stroke-linecap="butt"/>
<line x1="1608" y1="985.18" x2="1616.5" y2="985.18" stroke="#231F20" stroke-width="2.6" stroke-linecap="butt"/>
<line x1="1608" y1="976.6" x2="1616.5" y2="976.6" stroke="#231F20" stroke-width="2.6" stroke-linecap="butt"/>
<line x1="1608" y1="968.03" x2="1616.5" y2="968.03" stroke="#231F20" stroke-width="2.6" stroke-linecap="butt"/>
<line x1="1596.5" y1="959.46" x2="1616.5" y2="959.46" stroke="#231F20" stroke-width="2.6" stroke-linecap="butt"/>
<line x1="1608" y1="950.89" x2="1616.5" y2="950.89" stroke="#231F20" stroke-width="2.6" stroke-linecap="butt"/>
<line x1="1608" y1="942.32" x2="1616.5" y2="942.32" stroke="#231F20" stroke-width="2.6" stroke-linecap="butt"/>
<line x1="1608" y1="933.74" x2="1616.5" y2="933.74" stroke="#231F20" stroke-width="2.6" stroke-linecap="butt"/>
<line x1="1608" y1="925.17" x2="1616.5" y2="925.17" stroke="#231F20" stroke-width="2.6" stroke-linecap="butt"/>
<line x1="1596.5" y1="916.6" x2="1616.5" y2="916.6" stroke="#231F20" stroke-width="2.6" stroke-linecap="butt"/>
<line x1="1608" y1="908.03" x2="1616.5" y2="908.03" stroke="#231F20" stroke-width="2.6" stroke-linecap="butt"/>
<line x1="1608" y1="904.4" x2="1616.5" y2="904.4" stroke="#231F20" stroke-width="2.6" stroke-linecap="butt"/>
<line x1="1625.8" y1="1131.5" x2="1625.8" y2="1142.5" stroke="#231F20" stroke-width="2.7" stroke-linecap="butt"/>
<line x1="1637.6" y1="1131.5" x2="1637.6" y2="1154.2" stroke="#231F20" stroke-width="2.7" stroke-linecap="butt"/>
<line x1="1643.4" y1="1131.5" x2="1643.4" y2="1148.3" stroke="#231F20" stroke-width="2.7" stroke-linecap="butt"/>
<line x1="1650" y1="1131.5" x2="1650" y2="1154.2" stroke="#231F20" stroke-width="2.7" stroke-linecap="butt"/>
<line x1="1656.6" y1="1131.5" x2="1656.6" y2="1148.3" stroke="#231F20" stroke-width="2.7" stroke-linecap="butt"/>
<line x1="1662.4" y1="1131.5" x2="1662.4" y2="1154.2" stroke="#231F20" stroke-width="2.7" stroke-linecap="butt"/>
<line x1="1674.2" y1="1131.5" x2="1674.2" y2="1142.5" stroke="#231F20" stroke-width="2.7" stroke-linecap="butt"/>
<line x1="1682.9" y1="1131.5" x2="1682.9" y2="1142.5" stroke="#231F20" stroke-width="2.7" stroke-linecap="butt"/>
<line x1="1691.7" y1="1131.5" x2="1691.7" y2="1142.5" stroke="#231F20" stroke-width="2.7" stroke-linecap="butt"/>
<line x1="1698.3" y1="1131.5" x2="1698.3" y2="1148.3" stroke="#231F20" stroke-width="2.7" stroke-linecap="butt"/>
<line x1="1702.7" y1="1131.5" x2="1702.7" y2="1142.5" stroke="#231F20" stroke-width="2.7" stroke-linecap="butt"/>
<line x1="1705.6" y1="1131.5" x2="1705.6" y2="1142.5" stroke="#231F20" stroke-width="2.7" stroke-linecap="butt"/>
<line x1="1708.5" y1="1131.5" x2="1708.5" y2="1142.5" stroke="#231F20" stroke-width="2.7" stroke-linecap="butt"/>
<line x1="1711.5" y1="1131.5" x2="1711.5" y2="1142.5" stroke="#231F20" stroke-width="2.7" stroke-linecap="butt"/>
<line x1="1713.7" y1="1131.5" x2="1713.7" y2="1142.5" stroke="#231F20" stroke-width="2.7" stroke-linecap="butt"/>
<line x1="1715.9" y1="1131.5" x2="1715.9" y2="1154.2" stroke="#231F20" stroke-width="2.7" stroke-linecap="butt"/>
<line x1="1731.2" y1="1131.5" x2="1731.2" y2="1142.5" stroke="#231F20" stroke-width="2.7" stroke-linecap="butt"/>
<line x1="1742.9" y1="1131.5" x2="1742.9" y2="1142.5" stroke="#231F20" stroke-width="2.7" stroke-linecap="butt"/>
<line x1="1748" y1="1131.5" x2="1748" y2="1142.5" stroke="#231F20" stroke-width="2.7" stroke-linecap="butt"/>
<line x1="1752.5" y1="1131.5" x2="1752.5" y2="1148.3" stroke="#231F20" stroke-width="2.7" stroke-linecap="butt"/>
<line x1="1756.9" y1="1131.5" x2="1756.9" y2="1142.5" stroke="#231F20" stroke-width="2.7" stroke-linecap="butt"/>
<line x1="1759.8" y1="1131.5" x2="1759.8" y2="1142.5" stroke="#231F20" stroke-width="2.7" stroke-linecap="butt"/>
<line x1="1762.7" y1="1131.5" x2="1762.7" y2="1142.5" stroke="#231F20" stroke-width="2.7" stroke-linecap="butt"/>
<line x1="1764.9" y1="1131.5" x2="1764.9" y2="1142.5" stroke="#231F20" stroke-width="2.7" stroke-linecap="butt"/>
<line x1="1767.1" y1="1131.5" x2="1767.1" y2="1142.5" stroke="#231F20" stroke-width="2.7" stroke-linecap="butt"/>
<line x1="1770.8" y1="1131.5" x2="1770.8" y2="1154.2" stroke="#231F20" stroke-width="2.7" stroke-linecap="butt"/>
<line x1="1785.4" y1="1131.5" x2="1785.4" y2="1142.5" stroke="#231F20" stroke-width="2.7" stroke-linecap="butt"/>
<line x1="1794.2" y1="1131.5" x2="1794.2" y2="1142.5" stroke="#231F20" stroke-width="2.7" stroke-linecap="butt"/>
<line x1="1800.8" y1="1131.5" x2="1800.8" y2="1142.5" stroke="#231F20" stroke-width="2.7" stroke-linecap="butt"/>
<line x1="1806.6" y1="1131.5" x2="1806.6" y2="1148.3" stroke="#231F20" stroke-width="2.7" stroke-linecap="butt"/>
<line x1="1810.3" y1="1131.5" x2="1810.3" y2="1142.5" stroke="#231F20" stroke-width="2.7" stroke-linecap="butt"/>
<line x1="1813.2" y1="1131.5" x2="1813.2" y2="1142.5" stroke="#231F20" stroke-width="2.7" stroke-linecap="butt"/>
<line x1="1816.1" y1="1131.5" x2="1816.1" y2="1142.5" stroke="#231F20" stroke-width="2.7" stroke-linecap="butt"/>
<line x1="1818.3" y1="1131.5" x2="1818.3" y2="1142.5" stroke="#231F20" stroke-width="2.7" stroke-linecap="butt"/>
<line x1="1820.5" y1="1131.5" x2="1820.5" y2="1142.5" stroke="#231F20" stroke-width="2.7" stroke-linecap="butt"/>
<line x1="1822" y1="1131.5" x2="1822" y2="1154.2" stroke="#231F20" stroke-width="2.7" stroke-linecap="butt"/>
<line x1="1837.4" y1="1131.5" x2="1837.4" y2="1142.5" stroke="#231F20" stroke-width="2.7" stroke-linecap="butt"/>
<rect x="1636.4" y="1131.5" width="27.4" height="11" fill="#231F20"/>
<text x="1640.27" y="1182.8" fill="#231F20" style="font-size:35px">0</text>
<text x="1690.32" y="1182.8" fill="#231F20" style="font-size:35px">10</text>
<text x="1728.9" y="1174.16" fill="#231F20" style="font-size:21px;font-weight:bold">3</text>
<text x="1744.81" y="1182.8" fill="#231F20" style="font-size:35px">10</text>
<text x="1783.56" y="1173.95" fill="#231F20" style="font-size:21px;font-weight:bold">4</text>
<text x="1800.91" y="1182.8" fill="#231F20" style="font-size:35px">10</text>
<text x="1839.33" y="1173.95" fill="#231F20" style="font-size:21px;font-weight:bold">5</text>
<text x="1111.31" y="876.9" fill="#231F20" style="font-size:35.5px">NK alone</text>
<text x="1370.14" y="876.5" fill="#231F20" style="font-size:35.5px">NK + A549</text>
<text x="1643.94" y="859.3" fill="#231F20" style="font-size:35.5px">NK + A549</text>
<text x="1639.62" y="893.6" fill="#231F20" style="font-size:35.5px">+cetuximab</text>
<text x="969.96" y="1070.59" fill="#231F20" style="font-size:43px" transform="rotate(-90 969.96 1070.59)">Mode</text>
<text x="1086.22" y="1225.6" fill="#231F20" style="font-size:39px">CD16a</text>
<line x1="1264.3" y1="1212.8" x2="1802" y2="1212.8" stroke="#231F20" stroke-width="4.2" stroke-linecap="butt"/>
<polygon points="1799,1191.6 1821,1212.8 1799,1234" fill="#231F20"/>
<text x="0.25" y="1396.7" fill="#231F20" style="font-size:67px;font-weight:bold">G</text>
<line x1="166.1" y1="1422.6" x2="166.1" y2="1779.3" stroke="#231F20" stroke-width="4.8" stroke-linecap="butt"/>
<line x1="145.5" y1="1776.9" x2="168.5" y2="1776.9" stroke="#231F20" stroke-width="4.8" stroke-linecap="butt"/>
<line x1="145.5" y1="1706.52" x2="168.5" y2="1706.52" stroke="#231F20" stroke-width="4.8" stroke-linecap="butt"/>
<line x1="145.5" y1="1636.14" x2="168.5" y2="1636.14" stroke="#231F20" stroke-width="4.8" stroke-linecap="butt"/>
<line x1="145.5" y1="1565.76" x2="168.5" y2="1565.76" stroke="#231F20" stroke-width="4.8" stroke-linecap="butt"/>
<line x1="145.5" y1="1495.38" x2="168.5" y2="1495.38" stroke="#231F20" stroke-width="4.8" stroke-linecap="butt"/>
<line x1="145.5" y1="1425" x2="168.5" y2="1425" stroke="#231F20" stroke-width="4.8" stroke-linecap="butt"/>
<text x="117.32" y="1788.4" fill="#231F20" style="font-size:40px">0</text>
<text x="95.07" y="1718.02" fill="#231F20" style="font-size:40px">20</text>
<text x="95.07" y="1647.64" fill="#231F20" style="font-size:40px">40</text>
<text x="95.07" y="1577.26" fill="#231F20" style="font-size:40px">60</text>
<text x="95.07" y="1506.88" fill="#231F20" style="font-size:40px">80</text>
<text x="72.82" y="1436.5" fill="#231F20" style="font-size:40px">100</text>
<line x1="279.15" y1="1687.8" x2="279.15" y2="1615.7" stroke="#231F20" stroke-width="4.2" stroke-linecap="butt"/>
<line x1="268.15" y1="1615.7" x2="290.15" y2="1615.7" stroke="#231F20" stroke-width="4.2" stroke-linecap="butt"/>
<rect x="259.2" y="1689.8" width="39.9" height="87.1" fill="#97989C" stroke="#231F20" stroke-width="4"/>
<line x1="346.95" y1="1621.3" x2="346.95" y2="1549.7" stroke="#231F20" stroke-width="4.2" stroke-linecap="butt"/>
<line x1="335.95" y1="1549.7" x2="357.95" y2="1549.7" stroke="#231F20" stroke-width="4.2" stroke-linecap="butt"/>
<rect x="327" y="1623.3" width="39.9" height="153.6" fill="#97989C" stroke="#231F20" stroke-width="4"/>
<line x1="414.65" y1="1544.7" x2="414.65" y2="1463.2" stroke="#231F20" stroke-width="4.2" stroke-linecap="butt"/>
<line x1="403.65" y1="1463.2" x2="425.65" y2="1463.2" stroke="#231F20" stroke-width="4.2" stroke-linecap="butt"/>
<rect x="394.7" y="1546.7" width="39.9" height="230.2" fill="#97989C" stroke="#231F20" stroke-width="4"/>
<line x1="145.5" y1="1776.8" x2="462.5" y2="1776.8" stroke="#231F20" stroke-width="4.8" stroke-linecap="butt"/>
<line x1="210.8" y1="1774.4" x2="210.8" y2="1798.6" stroke="#231F20" stroke-width="4.8" stroke-linecap="butt"/>
<line x1="279" y1="1774.4" x2="279" y2="1798.6" stroke="#231F20" stroke-width="4.8" stroke-linecap="butt"/>
<line x1="346.8" y1="1774.4" x2="346.8" y2="1798.6" stroke="#231F20" stroke-width="4.8" stroke-linecap="butt"/>
<line x1="414.5" y1="1774.4" x2="414.5" y2="1798.6" stroke="#231F20" stroke-width="4.8" stroke-linecap="butt"/>
<circle cx="264.7" cy="1601.2" r="8.2" fill="#231F20"/>
<circle cx="294.1" cy="1586.6" r="8.2" fill="#231F20"/>
<circle cx="279" cy="1630.8" r="8.2" fill="#231F20"/>
<circle cx="279" cy="1652.1" r="8.2" fill="#231F20"/>
<circle cx="279" cy="1696.9" r="8.2" fill="#231F20"/>
<circle cx="279" cy="1734.1" r="8.2" fill="#231F20"/>
<circle cx="264.7" cy="1750.4" r="8.2" fill="#231F20"/>
<circle cx="293.6" cy="1758" r="8.2" fill="#231F20"/>
<circle cx="264.7" cy="1768" r="8.2" fill="#231F20"/>
<circle cx="346.8" cy="1518.9" r="8.2" fill="#231F20"/>
<circle cx="346.8" cy="1536" r="8.2" fill="#231F20"/>
<circle cx="361.3" cy="1535.4" r="8.2" fill="#231F20"/>
<circle cx="346.8" cy="1582.4" r="8.2" fill="#231F20"/>
<circle cx="332.5" cy="1648" r="8.2" fill="#231F20"/>
<circle cx="361.3" cy="1647.5" r="8.2" fill="#231F20"/>
<circle cx="346.8" cy="1660.4" r="8.2" fill="#231F20"/>
<circle cx="340" cy="1677.9" r="8.2" fill="#231F20"/>
<circle cx="353.8" cy="1685.2" r="8.2" fill="#231F20"/>
<circle cx="346.8" cy="1704.3" r="8.2" fill="#231F20"/>
<circle cx="414.5" cy="1449.9" r="8.2" fill="#231F20"/>
<circle cx="400.2" cy="1482.7" r="8.2" fill="#231F20"/>
<circle cx="414.5" cy="1478.2" r="8.2" fill="#231F20"/>
<circle cx="429.1" cy="1469.4" r="8.2" fill="#231F20"/>
<circle cx="429.1" cy="1520.9" r="8.2" fill="#231F20"/>
<circle cx="414.5" cy="1534.7" r="8.2" fill="#231F20"/>
<circle cx="414.5" cy="1569.1" r="8.2" fill="#231F20"/>
<circle cx="407" cy="1628.3" r="8.2" fill="#231F20"/>
<circle cx="422" cy="1628.3" r="8.2" fill="#231F20"/>
<circle cx="414.5" cy="1685.2" r="8.2" fill="#231F20"/>
<circle cx="198.9" cy="1777.2" r="8.2" fill="#231F20"/>
<circle cx="201.93" cy="1777.2" r="8.2" fill="#231F20"/>
<circle cx="204.97" cy="1777.2" r="8.2" fill="#231F20"/>
<circle cx="208" cy="1777.2" r="8.2" fill="#231F20"/>
<circle cx="211.03" cy="1777.2" r="8.2" fill="#231F20"/>
<circle cx="214.07" cy="1777.2" r="8.2" fill="#231F20"/>
<circle cx="217.1" cy="1777.2" r="8.2" fill="#231F20"/>
<circle cx="220.13" cy="1777.2" r="8.2" fill="#231F20"/>
<circle cx="223.17" cy="1777.2" r="8.2" fill="#231F20"/>
<circle cx="226.2" cy="1777.2" r="8.2" fill="#231F20"/>
<line x1="284" y1="1391.7" x2="418.6" y2="1391.7" stroke="#231F20" stroke-width="3.6" stroke-linecap="butt"/>
<text x="287.72" y="1376.6" fill="#231F20" style="font-size:32.2px">p=0.0008</text>
<line x1="352.6" y1="1433.6" x2="417.8" y2="1433.6" stroke="#231F20" stroke-width="3.6" stroke-linecap="butt"/>
<text x="317.92" y="1426.3" fill="#231F20" style="font-size:32.2px">p=0.0372</text>
<line x1="284" y1="1498.8" x2="350" y2="1498.8" stroke="#231F20" stroke-width="3.6" stroke-linecap="butt"/>
<text x="265.92" y="1487" fill="#231F20" style="font-size:32.2px">p=0.05</text>
<text x="48.4" y="1749.74" fill="#231F20" style="font-size:42.5px" transform="rotate(-90 48.4 1749.74)">Tumor area (%)</text>
<text x="221" y="1823.1" fill="#231F20" style="font-size:39px" text-anchor="end" transform="rotate(-50 221 1823.1)">NK cell alone</text>
<text x="301.8" y="1822.8" fill="#231F20" style="font-size:39px" text-anchor="end" transform="rotate(-50 301.8 1822.8)">NK cell on D-7</text>
<text x="364.5" y="1823" fill="#231F20" style="font-size:39px" text-anchor="end" transform="rotate(-50 364.5 1823)">NK cell on D10</text>
<text x="421.7" y="1823" fill="#231F20" style="font-size:39px" text-anchor="end" transform="rotate(-50 421.7 1823)">A549 alone</text>
<text x="487.42" y="1396.7" fill="#231F20" style="font-size:67px;font-weight:bold">H</text>
<g transform="translate(500 1500) scale(0.14637)">
<path d="M82 678 C180 680 285 790 302 940 C312 1060 330 1170 445 1255" fill="none" stroke="#000" stroke-width="17" stroke-linecap="round"/>
<path d="M515 1520 C470 1420 440 1320 445 1230 C452 1060 560 900 720 818 C800 778 880 760 960 760 C1060 762 1150 790 1215 835" fill="none" stroke="#000" stroke-width="19"/>
<path d="M1300 1185 C1220 1140 1190 1040 1195 940 C1200 840 1250 760 1330 745 C1400 735 1460 800 1475 925" fill="none" stroke="#000" stroke-width="17"/>
<path d="M1322 738 C1345 675 1390 638 1440 638 C1520 640 1575 740 1580 860 C1582 940 1560 990 1532 1028 L1535 1045 L1712 1432" fill="none" stroke="#000" stroke-width="16" stroke-linejoin="round"/>
<ellipse cx="1717" cy="1480" rx="30" ry="52" fill="#000" transform="rotate(-12 1717 1480)"/>
<ellipse cx="1568" cy="1283" rx="24" ry="44" fill="#000"/>
<path d="M1545 1405 L1650 1418 M1552 1448 L1650 1418 M1560 1492 L1650 1418" fill="none" stroke="#000" stroke-width="6"/>
<path d="M505 1525 L1722 1525" stroke="#000" stroke-width="26" fill="none"/>
</g>
<g transform="translate(853 1503) scale(0.14637)">
<path d="M82 678 C180 680 285 790 302 940 C312 1060 330 1170 445 1255" fill="none" stroke="#000" stroke-width="17" stroke-linecap="round"/>
<path d="M515 1520 C470 1420 440 1320 445 1230 C452 1060 560 900 720 818 C800 778 880 760 960 760 C1060 762 1150 790 1215 835" fill="none" stroke="#000" stroke-width="19"/>
<path d="M1300 1185 C1220 1140 1190 1040 1195 940 C1200 840 1250 760 1330 745 C1400 735 1460 800 1475 925" fill="none" stroke="#000" stroke-width="17"/>
<path d="M1322 738 C1345 675 1390 638 1440 638 C1520 640 1575 740 1580 860 C1582 940 1560 990 1532 1028 L1535 1045 L1712 1432" fill="none" stroke="#000" stroke-width="16" stroke-linejoin="round"/>
<ellipse cx="1717" cy="1480" rx="30" ry="52" fill="#000" transform="rotate(-12 1717 1480)"/>
<ellipse cx="1568" cy="1283" rx="24" ry="44" fill="#000"/>
<path d="M1545 1405 L1650 1418 M1552 1448 L1650 1418 M1560 1492 L1650 1418" fill="none" stroke="#000" stroke-width="6"/>
<path d="M505 1525 L1722 1525" stroke="#000" stroke-width="26" fill="none"/>
</g>
<polygon points="568.78,1577.8 569.92,1581.84 542.9,1603.89 539.9,1604.74" fill="#000"/>
<polygon points="564.7,1564.34 609.14,1522.88 617.79,1553.47 573.35,1594.93" fill="#000" stroke="#000" stroke-width="1.2" stroke-linejoin="round"/>
<polygon points="569.62,1566.07 593.45,1543.84 599.35,1564.71 575.52,1586.95" fill="#fff"/>
<polygon points="596.97,1540.92 608.44,1530.21 609.7,1534.64 598.22,1545.35" fill="#fff"/>
<polygon points="601.2,1557.52 612.82,1546.67 614.05,1551 602.42,1561.85" fill="#fff"/>
<polygon points="611.05,1532.89 622.75,1521.98 626.25,1534.39 614.56,1545.3" fill="#000"/>
<line x1="608.74" y1="1517.54" x2="618.15" y2="1559.33" stroke="#000" stroke-width="4.6" stroke-linecap="round"/>
<line x1="622.31" y1="1515.21" x2="626.97" y2="1540.52" stroke="#000" stroke-width="4.6" stroke-linecap="round"/>
<line x1="575.23" y1="1569.59" x2="577.04" y2="1577.27" stroke="#000" stroke-width="2.4" stroke-linecap="round"/>
<line x1="580.64" y1="1564.54" x2="582.44" y2="1572.22" stroke="#000" stroke-width="2.4" stroke-linecap="round"/>
<line x1="586.05" y1="1559.49" x2="587.85" y2="1567.17" stroke="#000" stroke-width="2.4" stroke-linecap="round"/>
<line x1="591.46" y1="1554.45" x2="593.26" y2="1562.13" stroke="#000" stroke-width="2.4" stroke-linecap="round"/>
<polygon points="921.38,1581.3 922.52,1585.34 895.5,1607.39 892.5,1608.24" fill="#000"/>
<polygon points="917.3,1567.84 961.74,1526.38 970.39,1556.97 925.95,1598.43" fill="#000" stroke="#000" stroke-width="1.2" stroke-linejoin="round"/>
<polygon points="922.22,1569.57 946.05,1547.34 951.95,1568.21 928.12,1590.45" fill="#fff"/>
<polygon points="949.57,1544.42 961.04,1533.71 962.3,1538.14 950.82,1548.85" fill="#fff"/>
<polygon points="953.8,1561.02 965.42,1550.17 966.65,1554.5 955.02,1565.35" fill="#fff"/>
<polygon points="963.65,1536.39 975.35,1525.48 978.85,1537.89 967.16,1548.8" fill="#000"/>
<line x1="961.34" y1="1521.04" x2="970.75" y2="1562.83" stroke="#000" stroke-width="4.6" stroke-linecap="round"/>
<line x1="974.91" y1="1518.71" x2="979.57" y2="1544.02" stroke="#000" stroke-width="4.6" stroke-linecap="round"/>
<line x1="927.83" y1="1573.09" x2="929.64" y2="1580.77" stroke="#000" stroke-width="2.4" stroke-linecap="round"/>
<line x1="933.24" y1="1568.04" x2="935.04" y2="1575.72" stroke="#000" stroke-width="2.4" stroke-linecap="round"/>
<line x1="938.65" y1="1562.99" x2="940.45" y2="1570.67" stroke="#000" stroke-width="2.4" stroke-linecap="round"/>
<line x1="944.06" y1="1557.95" x2="945.86" y2="1565.63" stroke="#000" stroke-width="2.4" stroke-linecap="round"/>
<text x="519.79" y="1458.1" fill="#231F20" style="font-size:35.5px">Human NK</text>
<text x="521.19" y="1493.9" fill="#231F20" style="font-size:35.5px">cell inoculation</text>
<text x="764.9" y="1622.8" fill="#231F20" style="font-size:35.5px">One</text>
<text x="757.66" y="1658.1" fill="#231F20" style="font-size:35.5px">week</text>
<text x="561.7" y="1782.2" fill="#231F20" style="font-size:35.5px">hIL-15 NOG</text>
<text x="620.13" y="1821" fill="#231F20" style="font-size:35.5px">mice</text>
<text x="892.23" y="1459.2" fill="#231F20" style="font-size:35.5px">A549</text>
<text x="889.93" y="1494.3" fill="#231F20" style="font-size:35.5px">inoculation</text>
<text x="1111.22" y="1597.2" fill="#231F20" style="font-size:35.5px">Three</text>
<text x="1107.76" y="1633" fill="#231F20" style="font-size:35.5px">weeks</text>
<text x="1257.61" y="1677.2" fill="#231F20" style="font-size:35.5px">Analysis of</text>
<text x="1252.3" y="1716.6" fill="#231F20" style="font-size:35.5px">metastases</text>
<text x="1039.61" y="1822.4" fill="#00A651" style="font-size:35.5px">Days 1, 3, 7, 14:</text>
<text x="1017.39" y="1860.7" fill="#00A651" style="font-size:35.5px">antibody treatments</text>
<line x1="769.7" y1="1682.9" x2="856" y2="1682.9" stroke="#000" stroke-width="8.4" stroke-linecap="butt"/>
<polygon points="852,1649 887.3,1682.9 852,1716.9" fill="#000"/>
<line x1="1109.4" y1="1676.3" x2="1196" y2="1676.3" stroke="#000" stroke-width="8.4" stroke-linecap="butt"/>
<polygon points="1192.5,1642.7 1227,1675.6 1192.5,1710.1" fill="#000"/>
<line x1="1139.2" y1="1785.4" x2="1139.2" y2="1726" stroke="#00A651" stroke-width="6.2" stroke-linecap="butt"/>
<polygon points="1121.9,1730.5 1139.2,1688.2 1157.4,1730.5" fill="#00A651"/>
<text x="1447.82" y="1396.7" fill="#231F20" style="font-size:67px;font-weight:bold">I</text>
<line x1="1610.4" y1="1470.8" x2="1610.4" y2="1910.6" stroke="#231F20" stroke-width="4.8" stroke-linecap="butt"/>
<line x1="1589.3" y1="1908.2" x2="1612.8" y2="1908.2" stroke="#231F20" stroke-width="4.8" stroke-linecap="butt"/>
<line x1="1589.3" y1="1763.2" x2="1612.8" y2="1763.2" stroke="#231F20" stroke-width="4.8" stroke-linecap="butt"/>
<line x1="1589.3" y1="1618.2" x2="1612.8" y2="1618.2" stroke="#231F20" stroke-width="4.8" stroke-linecap="butt"/>
<line x1="1589.3" y1="1473.2" x2="1612.8" y2="1473.2" stroke="#231F20" stroke-width="4.8" stroke-linecap="butt"/>
<line x1="1589.3" y1="1908.2" x2="1996.2" y2="1908.2" stroke="#231F20" stroke-width="4.8" stroke-linecap="butt"/>
<line x1="1699.1" y1="1905.8" x2="1699.1" y2="1928.8" stroke="#231F20" stroke-width="4.8" stroke-linecap="butt"/>
<line x1="1904" y1="1905.8" x2="1904" y2="1928.8" stroke="#231F20" stroke-width="4.8" stroke-linecap="butt"/>
<text x="1561.32" y="1919.7" fill="#231F20" style="font-size:40px">0</text>
<text x="1539.07" y="1774.7" fill="#231F20" style="font-size:40px">50</text>
<text x="1516.82" y="1629.7" fill="#231F20" style="font-size:40px">100</text>
<text x="1516.82" y="1484.7" fill="#231F20" style="font-size:40px">150</text>
<line x1="1636.7" y1="1677.1" x2="1687.4" y2="1677.1" stroke="#231F20" stroke-width="4.6" stroke-linecap="butt"/>
<line x1="1661.9" y1="1585.8" x2="1661.9" y2="1767.9" stroke="#231F20" stroke-width="4.6" stroke-linecap="butt"/>
<line x1="1648.9" y1="1585.8" x2="1674.9" y2="1585.8" stroke="#231F20" stroke-width="4.6" stroke-linecap="butt"/>
<line x1="1648.9" y1="1767.9" x2="1674.9" y2="1767.9" stroke="#231F20" stroke-width="4.6" stroke-linecap="butt"/>
<line x1="1713.7" y1="1730.4" x2="1763.5" y2="1730.4" stroke="#007D40" stroke-width="4.6" stroke-linecap="butt"/>
<line x1="1738.6" y1="1663.1" x2="1738.6" y2="1796.6" stroke="#007D40" stroke-width="4.6" stroke-linecap="butt"/>
<line x1="1726.1" y1="1663.1" x2="1751.1" y2="1663.1" stroke="#007D40" stroke-width="4.6" stroke-linecap="butt"/>
<line x1="1726.1" y1="1796.6" x2="1751.1" y2="1796.6" stroke="#007D40" stroke-width="4.6" stroke-linecap="butt"/>
<line x1="1841" y1="1718.7" x2="1892.3" y2="1718.7" stroke="#231F20" stroke-width="4.6" stroke-linecap="butt"/>
<line x1="1866.8" y1="1660.2" x2="1866.8" y2="1778.1" stroke="#231F20" stroke-width="4.6" stroke-linecap="butt"/>
<line x1="1853.8" y1="1660.2" x2="1879.8" y2="1660.2" stroke="#231F20" stroke-width="4.6" stroke-linecap="butt"/>
<line x1="1853.8" y1="1778.1" x2="1879.8" y2="1778.1" stroke="#231F20" stroke-width="4.6" stroke-linecap="butt"/>
<line x1="1917.8" y1="1816.7" x2="1968.4" y2="1816.7" stroke="#007D40" stroke-width="4.6" stroke-linecap="butt"/>
<line x1="1942.9" y1="1765.8" x2="1942.9" y2="1865.9" stroke="#007D40" stroke-width="4.6" stroke-linecap="butt"/>
<line x1="1930.4" y1="1765.8" x2="1955.4" y2="1765.8" stroke="#007D40" stroke-width="4.6" stroke-linecap="butt"/>
<line x1="1930.4" y1="1865.9" x2="1955.4" y2="1865.9" stroke="#007D40" stroke-width="4.6" stroke-linecap="butt"/>
<circle cx="1644" cy="1552.1" r="8" fill="#231F20"/>
<circle cx="1680" cy="1546" r="8" fill="#231F20"/>
<circle cx="1661.9" cy="1577.6" r="8" fill="#231F20"/>
<circle cx="1661.9" cy="1653.7" r="8" fill="#231F20"/>
<circle cx="1661.9" cy="1682.4" r="8" fill="#231F20"/>
<circle cx="1661.9" cy="1708.8" r="8" fill="#231F20"/>
<circle cx="1661.9" cy="1737.2" r="8" fill="#231F20"/>
<circle cx="1661.9" cy="1754.7" r="8" fill="#231F20"/>
<circle cx="1644" cy="1784" r="8" fill="#231F20"/>
<circle cx="1680" cy="1775.2" r="8" fill="#231F20"/>
<circle cx="1866.8" cy="1629.7" r="8" fill="#231F20"/>
<circle cx="1866.8" cy="1650.2" r="8" fill="#231F20"/>
<circle cx="1866.8" cy="1700" r="8" fill="#231F20"/>
<circle cx="1849.3" cy="1704.1" r="8" fill="#231F20"/>
<circle cx="1883.5" cy="1700" r="8" fill="#231F20"/>
<circle cx="1883.5" cy="1719.6" r="8" fill="#231F20"/>
<circle cx="1866.8" cy="1728.4" r="8" fill="#231F20"/>
<circle cx="1883.5" cy="1754.7" r="8" fill="#231F20"/>
<circle cx="1866.8" cy="1766.4" r="8" fill="#231F20"/>
<circle cx="1866.8" cy="1835.8" r="8" fill="#231F20"/>
<polygon points="1730.35,1607.85 1746.85,1607.85 1738.6,1591.35" fill="#007D40"/>
<polygon points="1730.35,1683.95 1746.85,1683.95 1738.6,1667.45" fill="#007D40"/>
<polygon points="1730.35,1704.45 1746.85,1704.45 1738.6,1687.95" fill="#007D40"/>
<polygon points="1712.15,1735.75 1728.65,1735.75 1720.4,1719.25" fill="#007D40"/>
<polygon points="1724.45,1739.55 1740.95,1739.55 1732.7,1723.05" fill="#007D40"/>
<polygon points="1712.15,1754.15 1728.65,1754.15 1720.4,1737.65" fill="#007D40"/>
<polygon points="1737.75,1755.05 1754.25,1755.05 1746,1738.55" fill="#007D40"/>
<polygon points="1748.45,1752.75 1764.95,1752.75 1756.7,1736.25" fill="#007D40"/>
<polygon points="1730.35,1805.45 1746.85,1805.45 1738.6,1788.95" fill="#007D40"/>
<polygon points="1730.35,1853.75 1746.85,1853.75 1738.6,1837.25" fill="#007D40"/>
<polygon points="1934.65,1741.05 1951.15,1741.05 1942.9,1724.55" fill="#007D40"/>
<polygon points="1916.25,1772.65 1932.75,1772.65 1924.5,1756.15" fill="#007D40"/>
<polygon points="1952.85,1772.65 1969.35,1772.65 1961.1,1756.15" fill="#007D40"/>
<polygon points="1934.65,1814.25 1951.15,1814.25 1942.9,1797.75" fill="#007D40"/>
<polygon points="1916.25,1836.05 1932.75,1836.05 1924.5,1819.55" fill="#007D40"/>
<polygon points="1952.85,1831.65 1969.35,1831.65 1961.1,1815.15" fill="#007D40"/>
<polygon points="1952.85,1847.75 1969.35,1847.75 1961.1,1831.25" fill="#007D40"/>
<polygon points="1916.25,1859.45 1932.75,1859.45 1924.5,1842.95" fill="#007D40"/>
<polygon points="1952.85,1882.95 1969.35,1882.95 1961.1,1866.45" fill="#007D40"/>
<polygon points="1916.25,1894.65 1932.75,1894.65 1924.5,1878.15" fill="#007D40"/>
<line x1="1656.6" y1="1476.6" x2="1864.5" y2="1476.6" stroke="#231F20" stroke-width="3.6" stroke-linecap="butt"/>
<text x="1707.01" y="1460.5" fill="#231F20" style="font-size:35.5px">p=0.24</text>
<line x1="1659.6" y1="1526.4" x2="1735.1" y2="1526.4" stroke="#231F20" stroke-width="3.6" stroke-linecap="butt"/>
<text x="1655.81" y="1513.2" fill="#231F20" style="font-size:35.5px">p=0.16</text>
<line x1="1741.5" y1="1562.4" x2="1942" y2="1562.4" stroke="#231F20" stroke-width="3.6" stroke-linecap="butt"/>
<text x="1768.51" y="1546.9" fill="#231F20" style="font-size:35.5px">p=0.0043</text>
<line x1="1865.9" y1="1605.4" x2="1942" y2="1605.4" stroke="#231F20" stroke-width="3.6" stroke-linecap="butt"/>
<text x="1840.21" y="1596.6" fill="#231F20" style="font-size:35.5px">p=0.0009</text>
<line x1="1524.9" y1="1382.4" x2="1579" y2="1382.4" stroke="#231F20" stroke-width="4.6" stroke-linecap="butt"/>
<circle cx="1552.1" cy="1382.4" r="9.5" fill="#231F20"/>
<text x="1584.2" y="1393.2" fill="#231F20" style="font-size:39px">Isotype</text>
<line x1="1524.9" y1="1423.9" x2="1579" y2="1423.9" stroke="#007D40" stroke-width="4.6" stroke-linecap="butt"/>
<polygon points="1540.1,1434.7 1564.1,1434.7 1552.1,1410.7" fill="#007D40"/>
<text x="1584.6" y="1439.4" fill="#006A38" style="font-size:39px">F9H4</text>
<text x="1508.8" y="1858.43" fill="#231F20" style="font-size:42.5px" transform="rotate(-90 1508.8 1858.43)">Number of tumors</text>
<text x="1644.57" y="1966.9" fill="#231F20" style="font-size:38.5px">hIgG1</text>
<text x="1637.57" y="2007.9" fill="#231F20" style="font-size:38.5px">isotype</text>
<text x="1814.02" y="1966.9" fill="#231F20" style="font-size:38.5px">Cetuximab</text>
</svg>
</body></html>
